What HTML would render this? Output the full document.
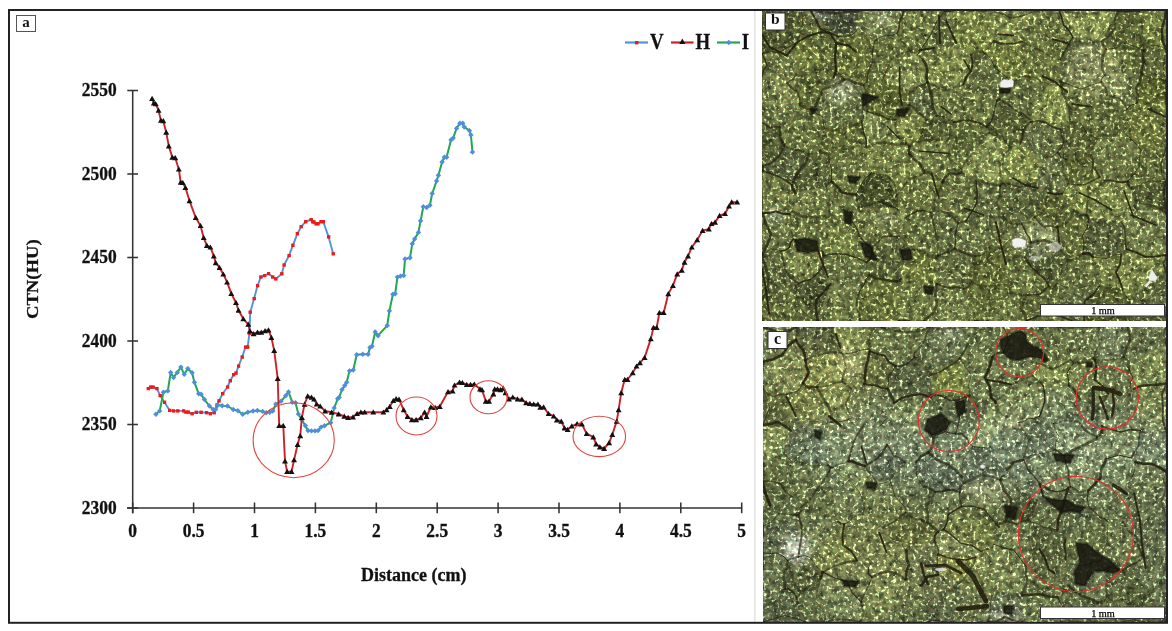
<!DOCTYPE html><html><head><meta charset="utf-8"><style>
html,body{margin:0;padding:0;background:#fff;width:1172px;height:631px;overflow:hidden}
.s{font-family:"Liberation Serif",serif;font-weight:bold}
</style></head><body>
<svg width="1172" height="631" viewBox="0 0 1172 631" style="position:absolute;left:0;top:0;will-change:transform">
<defs>
<marker id="tri" viewBox="0 0 6 6" markerWidth="6" markerHeight="6" refX="3" refY="3.2" markerUnits="userSpaceOnUse"><path d="M3,0.4 L6,5.6 L0,5.6Z" fill="#111"/></marker>
<marker id="sq" viewBox="0 0 4 4" markerWidth="4" markerHeight="4" refX="2" refY="2" markerUnits="userSpaceOnUse"><rect x="0.3" y="0.3" width="3.4" height="3.4" fill="#f01818"/></marker>
<marker id="dia" viewBox="0 0 6 6" markerWidth="6" markerHeight="6" refX="3" refY="3" markerUnits="userSpaceOnUse"><path d="M3,0.3 L5.7,3 L3,5.7 L0.3,3Z" fill="#4f8ede"/></marker>
</defs>
<rect x="0" y="0" width="1172" height="631" fill="#fff"/>

<line x1="754.8" y1="11" x2="754.8" y2="622" stroke="#e4e4e4" stroke-width="1.6"/>
<g stroke="#333" stroke-width="1.55" fill="none">
<line x1="132.7" y1="90.5" x2="132.7" y2="513.2"/>
<line x1="127" y1="508.0" x2="742.2" y2="508.0"/>
<line x1="127.3" y1="90.5" x2="138" y2="90.5"/>
<line x1="127.3" y1="174.0" x2="138" y2="174.0"/>
<line x1="127.3" y1="257.5" x2="138" y2="257.5"/>
<line x1="127.3" y1="341.0" x2="138" y2="341.0"/>
<line x1="127.3" y1="424.5" x2="138" y2="424.5"/>
<line x1="127.3" y1="508.0" x2="138" y2="508.0"/>
<line x1="132.7" y1="502.5" x2="132.7" y2="513.2"/>
<line x1="193.6" y1="502.5" x2="193.6" y2="513.2"/>
<line x1="254.5" y1="502.5" x2="254.5" y2="513.2"/>
<line x1="315.4" y1="502.5" x2="315.4" y2="513.2"/>
<line x1="376.3" y1="502.5" x2="376.3" y2="513.2"/>
<line x1="437.2" y1="502.5" x2="437.2" y2="513.2"/>
<line x1="498.1" y1="502.5" x2="498.1" y2="513.2"/>
<line x1="559.0" y1="502.5" x2="559.0" y2="513.2"/>
<line x1="619.9" y1="502.5" x2="619.9" y2="513.2"/>
<line x1="680.8" y1="502.5" x2="680.8" y2="513.2"/>
<line x1="741.7" y1="502.5" x2="741.7" y2="513.2"/>
</g>
<g class="s" font-size="17.4" fill="#111" stroke="#111" stroke-width="0.3">
<text transform="translate(116.6,96.0) scale(1,1.13)" text-anchor="end">2550</text>
<text transform="translate(116.6,179.5) scale(1,1.13)" text-anchor="end">2500</text>
<text transform="translate(116.6,263.0) scale(1,1.13)" text-anchor="end">2450</text>
<text transform="translate(116.6,346.5) scale(1,1.13)" text-anchor="end">2400</text>
<text transform="translate(116.6,430.0) scale(1,1.13)" text-anchor="end">2350</text>
<text transform="translate(116.6,513.5) scale(1,1.13)" text-anchor="end">2300</text>
<text transform="translate(132.7,536.5) scale(1,1.1)" text-anchor="middle">0</text>
<text transform="translate(193.6,536.5) scale(1,1.1)" text-anchor="middle">0.5</text>
<text transform="translate(254.5,536.5) scale(1,1.1)" text-anchor="middle">1</text>
<text transform="translate(315.4,536.5) scale(1,1.1)" text-anchor="middle">1.5</text>
<text transform="translate(376.3,536.5) scale(1,1.1)" text-anchor="middle">2</text>
<text transform="translate(437.2,536.5) scale(1,1.1)" text-anchor="middle">2.5</text>
<text transform="translate(498.1,536.5) scale(1,1.1)" text-anchor="middle">3</text>
<text transform="translate(559.0,536.5) scale(1,1.1)" text-anchor="middle">3.5</text>
<text transform="translate(619.9,536.5) scale(1,1.1)" text-anchor="middle">4</text>
<text transform="translate(680.8,536.5) scale(1,1.1)" text-anchor="middle">4.5</text>
<text transform="translate(741.7,536.5) scale(1,1.1)" text-anchor="middle">5</text>
</g>
<text class="s" font-size="18" x="413.8" y="581" text-anchor="middle" fill="#111" stroke="#111" stroke-width="0.3">Distance (cm)</text>
<text class="s" font-size="16.5" transform="translate(38,279.2) rotate(-90) scale(1.13,1)" text-anchor="middle" fill="#111" stroke="#111" stroke-width="0.3">CTN(HU)</text>
<polyline points="148.3,388.5 150.7,387.1 153.1,387.1 156.9,388.5 160.2,395.6 164.5,402.3 169.7,410.4 173.5,410.9 177.8,410.9 183.5,410.9 185.9,412.1 188.3,412.1 192.1,413.7 196.3,412.3 201.1,412.3 206.6,412.7 210.4,413.7 214.2,412.7 217.0,405.0 219.0,400.9 222.7,393.7 227.5,387.0 230.3,380.7 233.6,374.7 236.0,373.1 238.5,366.1 242.2,357.0 245.5,347.1 247.7,347.1 249.4,333.2 250.2,312.2 254.2,298.6 257.5,285.6 260.9,277.0 264.7,275.5 268.5,273.6 272.7,277.0 275.8,278.9 281.8,273.8 284.1,265.0 289.1,255.5 292.9,245.3 297.4,233.7 301.2,226.6 305.7,221.7 311.2,219.5 312.6,221.7 314.0,222.1 316.0,223.8 318.0,223.8 321.0,221.7 323.3,221.7 328.6,236.9 333.2,253.8" fill="none" stroke="#4f93d8" stroke-width="1.9" stroke-linejoin="round" marker-start="url(#sq)" marker-mid="url(#sq)" marker-end="url(#sq)"/>
<polyline points="155.9,414.2 159.7,410.9 163.5,392.3 167.8,390.9 170.7,372.4 173.5,377.6 177.3,372.4 180.9,367.1 184.2,374.3 187.8,368.6 192.1,372.8 194.4,382.3 198.7,393.7 201.1,394.2 204.4,399.4 209.4,406.0 213.2,409.5 215.7,409.3 218.0,405.1 222.2,405.7 227.5,406.0 233.2,409.5 237.9,410.8 242.7,414.2 247.8,412.3 253.1,411.0 257.4,410.5 262.7,411.4 266.2,412.8 269.7,412.3 272.8,411.0 275.8,404.1 281.0,401.3 285.7,395.7 288.5,391.9 292.3,402.3 295.5,402.7 298.4,414.0 301.9,420.1 305.4,425.7 308.0,430.6 311.5,430.9 315.0,430.9 318.1,430.6 321.1,427.1 324.6,425.7 330.7,422.7 334.2,407.9 337.7,398.8 339.1,397.4 342.0,389.6 344.7,385.6 346.7,382.3 349.5,370.9 353.3,370.0 356.7,354.7 362.8,354.3 368.1,354.3 370.0,347.5 372.0,346.2 375.2,331.9 378.0,335.7 387.2,325.6 389.4,310.9 392.9,294.2 395.2,293.8 397.4,277.1 400.5,276.1 403.7,275.5 405.0,259.0 410.0,257.7 412.3,243.8 414.6,239.0 418.4,232.4 420.6,220.8 423.3,206.8 426.6,207.5 429.9,205.3 432.2,193.5 436.6,180.9 438.4,175.3 442.1,162.0 444.3,157.2 446.6,157.2 451.0,139.9 453.2,138.1 456.5,128.4 459.9,123.3 462.7,123.3 464.3,127.0 469.4,130.6 470.9,135.0 472.5,152.1" fill="none" stroke="#1fa94c" stroke-width="2" stroke-linejoin="round" marker-start="url(#dia)" marker-mid="url(#dia)" marker-end="url(#dia)"/>
<polyline points="152.1,98.6 153.8,103.1 155.7,103.8 158.5,110.4 160.9,120.4 163.3,120.9 166.2,132.3 168.8,146.1 172.3,157.3 175.2,157.8 178.8,169.2 180.7,182.3 182.8,182.7 185.4,187.5 189.5,200.8 195.7,217.5 200.5,225.7 203.7,237.7 206.9,245.6 210.4,247.2 213.8,256.1 215.7,262.8 219.5,267.5 223.3,274.2 227.1,282.2 231.3,293.6 236.0,302.7 238.5,310.3 243.3,318.8 248.3,324.3 249.9,331.0 253.5,333.8 257.5,332.3 261.3,332.3 265.1,330.9 268.5,330.0 271.4,337.6 274.2,350.5 277.7,378.5 279.2,425.7 283.3,425.7 285.0,461.1 287.1,471.6 291.5,471.6 294.1,459.9 297.6,444.5 300.2,435.8 301.9,417.5 304.5,404.4 307.7,396.0 311.5,397.4 314.1,399.2 316.7,404.1 320.2,406.2 325.1,411.0 331.6,412.3 338.6,414.0 344.3,416.3 348.1,417.5 353.0,417.0 357.1,413.7 360.9,412.2 364.7,412.2 373.3,412.2 383.4,412.2 386.6,409.9 389.8,406.5 393.3,400.7 396.1,398.8 399.0,399.4 403.7,409.9 407.5,416.5 411.9,419.8 416.1,419.8 420.8,417.9 424.6,412.2 426.5,416.5 430.9,407.0 435.1,407.6 439.8,406.5 448.0,391.8 452.6,391.2 454.5,385.2 459.5,382.3 462.4,382.7 466.7,384.6 470.5,384.6 474.3,384.2 480.0,389.0 482.0,389.9 485.8,401.3 489.0,401.3 493.4,394.1 494.7,389.0 497.5,389.0 500.4,389.9 503.3,388.4 505.5,392.8 509.0,399.1 512.8,397.2 517.5,399.1 521.9,399.4 526.1,402.9 529.9,403.6 533.7,404.2 537.9,404.2 540.3,407.4 543.6,407.1 548.5,413.7 553.7,416.2 556.9,420.0 561.3,421.3 564.5,428.0 567.6,429.5 571.8,426.1 577.1,423.8 581.9,424.2 586.6,433.7 593.3,437.1 596.1,444.1 599.9,447.0 604.1,448.5 609.1,442.8 612.3,434.6 616.7,421.3 618.6,409.9 621.2,392.8 624.7,379.5 627.5,379.5 632.7,372.8 636.5,366.2 639.9,362.9 644.6,357.6 650.8,338.9 653.5,327.5 656.7,327.5 659.4,312.7 663.7,312.7 668.3,293.8 672.9,285.7 677.2,274.1 681.8,270.4 684.5,262.3 688.0,256.1 691.8,247.2 697.2,239.9 702.6,230.5 708.8,229.1 711.5,223.7 715.0,222.4 719.6,215.6 725.0,213.7 729.0,206.2 731.7,202.1 737.1,202.1" fill="none" stroke="#cc2028" stroke-width="1.9" stroke-linejoin="round" marker-start="url(#tri)" marker-mid="url(#tri)" marker-end="url(#tri)"/>
<g fill="none" stroke="#e0453c" stroke-width="1.1">
<ellipse cx="293.7" cy="440.2" rx="40.6" ry="37.5"/>
<ellipse cx="416.5" cy="416" rx="20.5" ry="19"/>
<ellipse cx="488.5" cy="397.2" rx="18.5" ry="16.5"/>
<ellipse cx="599.3" cy="436.4" rx="26.3" ry="20.2"/>
</g>
<g stroke-width="2.2">
<line x1="625" y1="42.5" x2="648" y2="42.5" stroke="#4f93d8"/><rect x="635" y="41" width="3.4" height="3.4" fill="#f01818"/>
<line x1="671" y1="42.5" x2="693.5" y2="42.5" stroke="#cc2028"/><path d="M682.3,38.6 L685.3,44 L679.3,44Z" fill="#111"/>
<line x1="717" y1="42.5" x2="740" y2="42.5" stroke="#1fa94c"/><path d="M728.8,39.8 L731.5,42.5 L728.8,45.2 L726.1,42.5Z" fill="#4f8ede"/>
</g>
<g class="s" font-size="23" fill="#111" stroke="#111" stroke-width="0.3">
<text transform="translate(650,49.4) scale(0.82,1)">V</text>
<text transform="translate(695.5,49.4) scale(0.82,1)">H</text>
<text transform="translate(741.8,49.4) scale(0.82,1)">I</text>
</g>
<rect x="16.5" y="15.5" width="19" height="16" fill="#fff" stroke="#555" stroke-width="1"/>
<text class="s" font-size="15" x="25.9" y="26.6" text-anchor="middle" fill="#111">a</text>
<clipPath id="clipb"><rect x="762" y="11" width="404" height="310"/></clipPath>
<filter id="nzb" x="762" y="11" width="404" height="310" filterUnits="userSpaceOnUse" color-interpolation-filters="sRGB">
<feTurbulence type="fractalNoise" baseFrequency="0.38" numOctaves="1" seed="23" result="t1"/>
<feColorMatrix in="t1" type="matrix" values="0.35 0.4 0 0 0.125  0.35 0.060 0 0 0.295  0.35 0.040 0 0 0.305  0 0 0 0 1" result="c1"/>
<feTurbulence type="fractalNoise" baseFrequency="0.15" numOctaves="2" seed="3" result="t2"/>
<feColorMatrix in="t2" type="matrix" values="1 0 0 0 0  1 0 0 0 0  1 0 0 0 0  0 0 0 0 1" result="c2"/>
<feComposite in="c1" in2="c2" operator="arithmetic" k1="0" k2="1" k3="0.6" k4="-0.300" result="n"/>
<feComposite in="SourceGraphic" in2="n" operator="arithmetic" k1="2" k2="0" k3="0" k4="0" result="b"/>
<feTurbulence type="fractalNoise" baseFrequency="0.3" numOctaves="2" seed="43" result="t3"/>
<feColorMatrix in="t3" type="matrix" values="1 0 0 0 0  1 0 0 0 0  1 0 0 0 0  0 0 0 0 1" result="c3"/>
<feComponentTransfer in="c3" result="m"><feFuncR type="linear" slope="4.5" intercept="-2.475"/><feFuncG type="linear" slope="4.5" intercept="-2.475"/><feFuncB type="linear" slope="4.5" intercept="-2.475"/></feComponentTransfer>
<feColorMatrix in="m" type="matrix" values="0.5 0 0 0 0  0.56 0 0 0 0  0.4 0 0 0 0  0 0 0 0 1" result="spk"/>
<feComposite in="b" in2="spk" operator="arithmetic" k1="0" k2="1" k3="1" k4="0"/>
<feGaussianBlur stdDeviation="0.45"/>
</filter>
<g clip-path="url(#clipb)"><g filter="url(#nzb)">
<rect x="762" y="11" width="404" height="310" fill="#646c3e"/>
<path d="M794.5,44.4 L762.0,53.6 L762.0,11.0 L801.5,11.0 L799.6,35.9Z" fill="#4b512e" stroke="#4b512e" stroke-width="0.6"/>
<path d="M797.6,72.9 L787.2,83.2 L762.0,76.8 L762.0,53.6 L794.5,44.4Z" fill="#646c3f" stroke="#646c3f" stroke-width="0.6"/>
<path d="M762.0,76.8 L787.2,83.2 L799.7,105.3 L779.7,127.1 L762.0,122.6Z" fill="#626a40" stroke="#626a40" stroke-width="0.6"/>
<path d="M784.4,145.3 L762.0,165.9 L762.0,122.6 L779.7,127.1Z" fill="#515833" stroke="#515833" stroke-width="0.6"/>
<path d="M762.0,170.7 L792.1,185.3 L808.7,154.2 L784.4,145.3 L762.0,165.9Z" fill="#535a3a" stroke="#535a3a" stroke-width="0.6"/>
<path d="M792.5,211.2 L795.4,193.2 L792.1,185.3 L762.0,170.7 L762.0,213.3 L789.9,214.3Z" fill="#6a7242" stroke="#6a7242" stroke-width="0.6"/>
<path d="M789.9,214.3 L762.0,213.3 L762.0,254.6 L781.1,251.0 L793.4,238.9Z" fill="#666e43" stroke="#666e43" stroke-width="0.6"/>
<path d="M798.2,283.4 L781.1,251.0 L762.0,254.6 L762.0,299.6 L795.0,288.5Z" fill="#59603b" stroke="#59603b" stroke-width="0.6"/>
<path d="M795.0,288.5 L817.2,321.0 L762.0,321.0 L762.0,299.6Z" fill="#5a6137" stroke="#5a6137" stroke-width="0.6"/>
<path d="M824.4,63.2 L831.6,63.2 L838.5,36.8 L810.8,11.0 L801.5,11.0 L799.6,35.9Z" fill="#5c6337" stroke="#5c6337" stroke-width="0.6"/>
<path d="M824.4,63.2 L799.6,35.9 L794.5,44.4 L797.6,72.9Z" fill="#6e763c" stroke="#6e763c" stroke-width="0.6"/>
<path d="M824.4,63.2 L831.6,63.2 L844.4,79.5 L813.5,110.0 L799.7,105.3 L787.2,83.2 L797.6,72.9Z" fill="#565d32" stroke="#565d32" stroke-width="0.6"/>
<path d="M824.6,128.6 L813.5,110.0 L799.7,105.3 L779.7,127.1 L784.4,145.3 L808.7,154.2 L820.0,151.2Z" fill="#636b3d" stroke="#636b3d" stroke-width="0.6"/>
<path d="M831.6,181.5 L828.7,159.6 L820.0,151.2 L808.7,154.2 L792.1,185.3 L795.4,193.2 L826.0,187.0Z" fill="#515834" stroke="#515834" stroke-width="0.6"/>
<path d="M824.8,215.7 L792.5,211.2 L795.4,193.2 L826.0,187.0Z" fill="#6d7544" stroke="#6d7544" stroke-width="0.6"/>
<path d="M835.6,224.9 L821.9,250.8 L793.4,238.9 L789.9,214.3 L792.5,211.2 L824.8,215.7Z" fill="#646c3f" stroke="#646c3f" stroke-width="0.6"/>
<path d="M798.2,283.4 L781.1,251.0 L793.4,238.9 L821.9,250.8 L823.3,255.6 L819.0,271.9Z" fill="#727b47" stroke="#727b47" stroke-width="0.6"/>
<path d="M798.2,283.4 L819.0,271.9 L830.5,284.1 L817.9,321.0 L817.2,321.0 L795.0,288.5Z" fill="#484d2f" stroke="#484d2f" stroke-width="0.6"/>
<path d="M856.7,30.7 L838.5,36.8 L810.8,11.0 L859.3,11.0Z" fill="#434936" stroke="#434936" stroke-width="0.6"/>
<path d="M838.5,36.8 L856.7,30.7 L875.1,40.9 L867.0,82.2 L863.5,85.0 L844.4,79.5 L831.6,63.2Z" fill="#626937" stroke="#626937" stroke-width="0.6"/>
<path d="M861.7,121.0 L824.6,128.6 L813.5,110.0 L844.4,79.5 L863.5,85.0 L867.7,111.6Z" fill="#616941" stroke="#616941" stroke-width="0.6"/>
<path d="M861.7,121.0 L824.6,128.6 L820.0,151.2 L828.7,159.6 L863.1,155.6 L866.1,147.5Z" fill="#5c6335" stroke="#5c6335" stroke-width="0.6"/>
<path d="M855.8,194.6 L831.6,181.5 L828.7,159.6 L863.1,155.6 L871.5,172.6Z" fill="#666e3f" stroke="#666e3f" stroke-width="0.6"/>
<path d="M855.8,194.6 L831.6,181.5 L826.0,187.0 L824.8,215.7 L835.6,224.9 L851.7,220.6 L858.4,207.4Z" fill="#636b3e" stroke="#636b3e" stroke-width="0.6"/>
<path d="M866.7,262.4 L823.3,255.6 L821.9,250.8 L835.6,224.9 L851.7,220.6 L871.5,247.9Z" fill="#6f7843" stroke="#6f7843" stroke-width="0.6"/>
<path d="M866.7,262.4 L823.3,255.6 L819.0,271.9 L830.5,284.1 L858.9,292.6 L869.5,275.2Z" fill="#636c42" stroke="#636c42" stroke-width="0.6"/>
<path d="M830.5,284.1 L858.9,292.6 L860.3,321.0 L817.9,321.0Z" fill="#687143" stroke="#687143" stroke-width="0.6"/>
<path d="M859.3,11.0 L903.8,11.0 L897.1,33.5 L875.1,40.9 L856.7,30.7Z" fill="#6d7649" stroke="#6d7649" stroke-width="0.6"/>
<path d="M867.0,82.2 L882.2,80.4 L910.1,50.9 L897.1,33.5 L875.1,40.9Z" fill="#626a3d" stroke="#626a3d" stroke-width="0.6"/>
<path d="M867.7,111.6 L863.5,85.0 L867.0,82.2 L882.2,80.4 L913.2,91.6 L909.4,105.4 L895.4,119.8Z" fill="#596031" stroke="#596031" stroke-width="0.6"/>
<path d="M861.7,121.0 L866.1,147.5 L905.7,143.5 L895.4,119.8 L867.7,111.6Z" fill="#747e4a" stroke="#747e4a" stroke-width="0.6"/>
<path d="M885.8,175.2 L909.3,154.2 L909.2,146.6 L905.7,143.5 L866.1,147.5 L863.1,155.6 L871.5,172.6Z" fill="#6e7743" stroke="#6e7743" stroke-width="0.6"/>
<path d="M896.7,195.3 L885.8,175.2 L871.5,172.6 L855.8,194.6 L858.4,207.4 L897.3,208.8Z" fill="#454b2a" stroke="#454b2a" stroke-width="0.6"/>
<path d="M871.5,247.9 L851.7,220.6 L858.4,207.4 L897.3,208.8 L905.1,218.0 L899.0,236.3Z" fill="#646b3d" stroke="#646b3d" stroke-width="0.6"/>
<path d="M907.4,248.2 L899.0,236.3 L871.5,247.9 L866.7,262.4 L869.5,275.2 L896.8,281.3 L901.0,279.2Z" fill="#565d37" stroke="#565d37" stroke-width="0.6"/>
<path d="M869.5,275.2 L858.9,292.6 L860.3,321.0 L899.4,321.0 L896.8,281.3Z" fill="#656d3a" stroke="#656d3a" stroke-width="0.6"/>
<path d="M897.1,33.5 L903.8,11.0 L944.5,11.0 L917.5,54.8 L910.1,50.9Z" fill="#687040" stroke="#687040" stroke-width="0.6"/>
<path d="M927.5,82.5 L927.5,82.5 L913.2,91.6 L882.2,80.4 L910.1,50.9 L917.5,54.8 L923.0,59.9Z" fill="#757e4a" stroke="#757e4a" stroke-width="0.6"/>
<path d="M926.3,119.8 L936.6,115.6 L927.5,82.5 L913.2,91.6 L909.4,105.4Z" fill="#5a623f" stroke="#5a623f" stroke-width="0.6"/>
<path d="M905.7,143.5 L909.2,146.6 L918.5,141.6 L926.3,119.8 L909.4,105.4 L895.4,119.8Z" fill="#7a8348" stroke="#7a8348" stroke-width="0.6"/>
<path d="M896.7,195.3 L924.5,173.2 L909.3,154.2 L885.8,175.2Z" fill="#717a43" stroke="#717a43" stroke-width="0.6"/>
<path d="M930.8,212.9 L905.1,218.0 L897.3,208.8 L896.7,195.3 L924.5,173.2 L942.4,182.6 L933.8,210.8Z" fill="#666e3e" stroke="#666e3e" stroke-width="0.6"/>
<path d="M936.4,257.9 L937.8,256.0 L930.8,212.9 L905.1,218.0 L899.0,236.3 L907.4,248.2Z" fill="#60683d" stroke="#60683d" stroke-width="0.6"/>
<path d="M937.0,283.9 L936.4,257.9 L907.4,248.2 L901.0,279.2 L936.4,284.4Z" fill="#69713b" stroke="#69713b" stroke-width="0.6"/>
<path d="M936.4,284.4 L924.3,321.0 L899.4,321.0 L896.8,281.3 L901.0,279.2Z" fill="#6a7342" stroke="#6a7342" stroke-width="0.6"/>
<path d="M923.0,59.9 L917.5,54.8 L944.5,11.0 L949.9,11.0 L957.6,43.1Z" fill="#5b633b" stroke="#5b633b" stroke-width="0.6"/>
<path d="M927.5,82.5 L960.4,85.9 L963.6,84.1 L970.9,54.6 L957.6,43.1 L923.0,59.9Z" fill="#798249" stroke="#798249" stroke-width="0.6"/>
<path d="M927.5,82.5 L927.5,82.5 L936.6,115.6 L953.8,121.8 L960.4,85.9Z" fill="#646c3f" stroke="#646c3f" stroke-width="0.6"/>
<path d="M918.5,141.6 L947.6,141.4 L954.0,122.2 L953.8,121.8 L936.6,115.6 L926.3,119.8Z" fill="#565d36" stroke="#565d36" stroke-width="0.6"/>
<path d="M924.5,173.2 L942.4,182.6 L961.6,172.4 L961.6,169.9 L947.6,141.4 L918.5,141.6 L909.2,146.6 L909.3,154.2Z" fill="#6d7645" stroke="#6d7645" stroke-width="0.6"/>
<path d="M958.1,222.9 L965.9,221.4 L976.1,180.9 L961.6,172.4 L942.4,182.6 L933.8,210.8Z" fill="#61683d" stroke="#61683d" stroke-width="0.6"/>
<path d="M954.5,248.9 L958.1,222.9 L933.8,210.8 L930.8,212.9 L937.8,256.0Z" fill="#616942" stroke="#616942" stroke-width="0.6"/>
<path d="M937.0,283.9 L963.6,288.7 L971.2,281.6 L975.1,256.3 L954.5,248.9 L937.8,256.0 L936.4,257.9Z" fill="#5f663e" stroke="#5f663e" stroke-width="0.6"/>
<path d="M937.0,283.9 L963.6,288.7 L975.0,321.0 L924.3,321.0 L936.4,284.4Z" fill="#6c7546" stroke="#6c7546" stroke-width="0.6"/>
<path d="M970.9,54.6 L982.8,51.6 L993.6,41.0 L989.0,11.0 L949.9,11.0 L957.6,43.1Z" fill="#6f783f" stroke="#6f783f" stroke-width="0.6"/>
<path d="M999.7,99.5 L1011.2,81.4 L982.8,51.6 L970.9,54.6 L963.6,84.1 L997.0,100.7Z" fill="#5e663d" stroke="#5e663d" stroke-width="0.6"/>
<path d="M986.8,126.8 L954.0,122.2 L953.8,121.8 L960.4,85.9 L963.6,84.1 L997.0,100.7Z" fill="#666e3f" stroke="#666e3f" stroke-width="0.6"/>
<path d="M986.8,126.8 L954.0,122.2 L947.6,141.4 L961.6,169.9 L988.7,132.8Z" fill="#596136" stroke="#596136" stroke-width="0.6"/>
<path d="M1011.3,147.9 L1003.0,183.2 L999.9,185.8 L976.1,180.9 L961.6,172.4 L961.6,169.9 L988.7,132.8Z" fill="#7b854e" stroke="#7b854e" stroke-width="0.6"/>
<path d="M992.8,232.0 L1005.7,219.1 L999.9,185.8 L976.1,180.9 L965.9,221.4Z" fill="#5e663f" stroke="#5e663f" stroke-width="0.6"/>
<path d="M954.5,248.9 L975.1,256.3 L990.6,245.3 L992.8,232.0 L965.9,221.4 L958.1,222.9Z" fill="#646c43" stroke="#646c43" stroke-width="0.6"/>
<path d="M990.6,245.3 L1005.8,262.1 L1004.4,284.0 L971.2,281.6 L975.1,256.3Z" fill="#5b6133" stroke="#5b6133" stroke-width="0.6"/>
<path d="M1010.0,291.8 L988.1,321.0 L975.0,321.0 L963.6,288.7 L971.2,281.6 L1004.4,284.0Z" fill="#5c6435" stroke="#5c6435" stroke-width="0.6"/>
<path d="M989.0,11.0 L1034.5,11.0 L1022.1,41.5 L993.6,41.0Z" fill="#778149" stroke="#778149" stroke-width="0.6"/>
<path d="M1019.3,77.1 L1011.2,81.4 L982.8,51.6 L993.6,41.0 L1022.1,41.5 L1022.1,41.6Z" fill="#70793e" stroke="#70793e" stroke-width="0.6"/>
<path d="M1030.2,119.9 L999.7,99.5 L1011.2,81.4 L1019.3,77.1 L1048.5,83.8Z" fill="#60683e" stroke="#60683e" stroke-width="0.6"/>
<path d="M1031.0,121.8 L1019.9,144.1 L1011.3,147.9 L988.7,132.8 L986.8,126.8 L997.0,100.7 L999.7,99.5 L1030.2,119.9Z" fill="#545b34" stroke="#545b34" stroke-width="0.6"/>
<path d="M1043.5,157.7 L1035.9,182.5 L1003.0,183.2 L1011.3,147.9 L1019.9,144.1Z" fill="#798247" stroke="#798247" stroke-width="0.6"/>
<path d="M1021.3,223.6 L1034.7,216.9 L1048.0,193.0 L1035.9,182.5 L1003.0,183.2 L999.9,185.8 L1005.7,219.1Z" fill="#565d39" stroke="#565d39" stroke-width="0.6"/>
<path d="M990.6,245.3 L1005.8,262.1 L1025.0,257.3 L1031.0,242.5 L1021.3,223.6 L1005.7,219.1 L992.8,232.0Z" fill="#5f663a" stroke="#5f663a" stroke-width="0.6"/>
<path d="M1025.0,257.3 L1048.9,286.0 L1027.0,295.3 L1010.0,291.8 L1004.4,284.0 L1005.8,262.1Z" fill="#626a3c" stroke="#626a3c" stroke-width="0.6"/>
<path d="M988.1,321.0 L1026.0,321.0 L1027.0,295.3 L1010.0,291.8Z" fill="#676f41" stroke="#676f41" stroke-width="0.6"/>
<path d="M1022.1,41.6 L1022.1,41.5 L1034.5,11.0 L1059.5,11.0 L1072.9,37.3 L1060.4,60.0Z" fill="#646c3d" stroke="#646c3d" stroke-width="0.6"/>
<path d="M1048.5,83.8 L1019.3,77.1 L1022.1,41.6 L1060.4,60.0 L1059.8,80.9Z" fill="#656c3c" stroke="#656c3c" stroke-width="0.6"/>
<path d="M1031.0,121.8 L1060.5,129.2 L1070.3,121.4 L1060.9,81.7 L1059.8,80.9 L1048.5,83.8 L1030.2,119.9Z" fill="#7c864b" stroke="#7c864b" stroke-width="0.6"/>
<path d="M1031.0,121.8 L1019.9,144.1 L1043.5,157.7 L1057.5,152.4 L1060.5,129.2Z" fill="#606842" stroke="#606842" stroke-width="0.6"/>
<path d="M1057.5,152.4 L1066.0,159.6 L1068.2,183.8 L1062.6,193.5 L1048.0,193.0 L1035.9,182.5 L1043.5,157.7Z" fill="#636b45" stroke="#636b45" stroke-width="0.6"/>
<path d="M1062.6,193.5 L1073.9,210.4 L1056.5,227.2 L1034.7,216.9 L1048.0,193.0Z" fill="#565c32" stroke="#565c32" stroke-width="0.6"/>
<path d="M1031.0,242.5 L1056.2,246.3 L1056.5,227.2 L1034.7,216.9 L1021.3,223.6Z" fill="#6c7544" stroke="#6c7544" stroke-width="0.6"/>
<path d="M1057.4,283.4 L1067.6,260.4 L1056.2,246.3 L1031.0,242.5 L1025.0,257.3 L1048.9,286.0 L1055.4,286.0Z" fill="#4e5532" stroke="#4e5532" stroke-width="0.6"/>
<path d="M1055.4,286.0 L1072.3,321.0 L1026.0,321.0 L1027.0,295.3 L1048.9,286.0Z" fill="#5e6538" stroke="#5e6538" stroke-width="0.6"/>
<path d="M1101.2,41.5 L1118.2,11.0 L1059.5,11.0 L1072.9,37.3Z" fill="#808a4e" stroke="#808a4e" stroke-width="0.6"/>
<path d="M1059.8,80.9 L1060.4,60.0 L1072.9,37.3 L1101.2,41.5 L1105.9,49.4 L1105.1,74.8 L1101.4,82.0 L1060.9,81.7Z" fill="#575e3b" stroke="#575e3b" stroke-width="0.6"/>
<path d="M1070.3,121.4 L1081.0,123.4 L1106.7,94.9 L1101.4,82.0 L1060.9,81.7Z" fill="#636b3e" stroke="#636b3e" stroke-width="0.6"/>
<path d="M1060.5,129.2 L1057.5,152.4 L1066.0,159.6 L1091.0,155.0 L1097.8,139.4 L1081.0,123.4 L1070.3,121.4Z" fill="#575d35" stroke="#575d35" stroke-width="0.6"/>
<path d="M1091.0,155.0 L1099.7,176.9 L1068.2,183.8 L1066.0,159.6Z" fill="#5a6033" stroke="#5a6033" stroke-width="0.6"/>
<path d="M1062.6,193.5 L1068.2,183.8 L1099.7,176.9 L1104.8,180.4 L1086.4,215.3 L1073.9,210.4Z" fill="#747d44" stroke="#747d44" stroke-width="0.6"/>
<path d="M1088.6,218.0 L1086.4,215.3 L1073.9,210.4 L1056.5,227.2 L1056.2,246.3 L1067.6,260.4 L1083.0,253.8Z" fill="#606739" stroke="#606739" stroke-width="0.6"/>
<path d="M1099.9,285.7 L1099.0,286.2 L1057.4,283.4 L1067.6,260.4 L1083.0,253.8 L1093.1,257.1Z" fill="#61693e" stroke="#61693e" stroke-width="0.6"/>
<path d="M1084.4,321.0 L1099.0,286.2 L1057.4,283.4 L1055.4,286.0 L1072.3,321.0Z" fill="#5c643e" stroke="#5c643e" stroke-width="0.6"/>
<path d="M1105.9,49.4 L1143.9,50.8 L1147.5,47.1 L1139.5,11.0 L1118.2,11.0 L1101.2,41.5Z" fill="#555c32" stroke="#555c32" stroke-width="0.6"/>
<path d="M1105.1,74.8 L1141.1,72.9 L1143.9,50.8 L1105.9,49.4Z" fill="#626a3c" stroke="#626a3c" stroke-width="0.6"/>
<path d="M1105.1,74.8 L1141.1,72.9 L1141.8,74.1 L1137.0,102.7 L1126.8,109.8 L1106.7,94.9 L1101.4,82.0Z" fill="#6b7449" stroke="#6b7449" stroke-width="0.6"/>
<path d="M1097.8,139.4 L1126.5,135.0 L1126.8,109.8 L1106.7,94.9 L1081.0,123.4Z" fill="#5b6238" stroke="#5b6238" stroke-width="0.6"/>
<path d="M1097.8,139.4 L1126.5,135.0 L1141.0,150.2 L1127.9,181.4 L1104.8,180.4 L1099.7,176.9 L1091.0,155.0Z" fill="#687042" stroke="#687042" stroke-width="0.6"/>
<path d="M1088.6,218.0 L1086.4,215.3 L1104.8,180.4 L1127.9,181.4 L1131.1,188.4 L1135.1,202.7 L1121.4,222.0Z" fill="#717a45" stroke="#717a45" stroke-width="0.6"/>
<path d="M1093.1,257.1 L1083.0,253.8 L1088.6,218.0 L1121.4,222.0 L1126.4,249.1 L1121.2,254.3Z" fill="#535937" stroke="#535937" stroke-width="0.6"/>
<path d="M1099.9,285.7 L1093.1,257.1 L1121.2,254.3 L1122.9,289.6Z" fill="#6f7843" stroke="#6f7843" stroke-width="0.6"/>
<path d="M1099.9,285.7 L1099.0,286.2 L1084.4,321.0 L1129.7,321.0 L1129.8,299.5 L1122.9,289.6Z" fill="#51572d" stroke="#51572d" stroke-width="0.6"/>
<path d="M1166.0,48.9 L1166.0,11.0 L1139.5,11.0 L1147.5,47.1Z" fill="#6f7840" stroke="#6f7840" stroke-width="0.6"/>
<path d="M1143.9,50.8 L1141.1,72.9 L1141.8,74.1 L1166.0,80.7 L1166.0,48.9 L1147.5,47.1Z" fill="#5f663c" stroke="#5f663c" stroke-width="0.6"/>
<path d="M1137.0,102.7 L1166.0,103.7 L1166.0,80.7 L1141.8,74.1Z" fill="#5e6531" stroke="#5e6531" stroke-width="0.6"/>
<path d="M1137.0,102.7 L1166.0,103.7 L1166.0,147.6 L1141.0,150.2 L1126.5,135.0 L1126.8,109.8Z" fill="#676e3a" stroke="#676e3a" stroke-width="0.6"/>
<path d="M1127.9,181.4 L1131.1,188.4 L1166.0,182.0 L1166.0,147.6 L1141.0,150.2Z" fill="#5d6439" stroke="#5d6439" stroke-width="0.6"/>
<path d="M1131.1,188.4 L1135.1,202.7 L1166.0,213.4 L1166.0,182.0Z" fill="#4f5532" stroke="#4f5532" stroke-width="0.6"/>
<path d="M1126.4,249.1 L1166.0,254.9 L1166.0,213.4 L1135.1,202.7 L1121.4,222.0Z" fill="#6c7548" stroke="#6c7548" stroke-width="0.6"/>
<path d="M1122.9,289.6 L1129.8,299.5 L1166.0,271.9 L1166.0,254.9 L1126.4,249.1 L1121.2,254.3Z" fill="#727b45" stroke="#727b45" stroke-width="0.6"/>
<path d="M1129.8,299.5 L1129.7,321.0 L1166.0,321.0 L1166.0,271.9Z" fill="#565d37" stroke="#565d37" stroke-width="0.6"/>
<filter id="blb" x="-50%" y="-50%" width="200%" height="200%"><feGaussianBlur stdDeviation="5"/></filter>
<filter id="bLb" x="-50%" y="-50%" width="200%" height="200%"><feGaussianBlur stdDeviation="16"/></filter>
<g filter="url(#blb)">
<ellipse cx="840" cy="91" rx="13" ry="11" fill="#d8dcc0" fill-opacity="0.5"/>
<ellipse cx="818" cy="15" rx="9" ry="4" fill="#f0f0e8" fill-opacity="0.55"/>
<ellipse cx="883" cy="18" rx="9" ry="5" fill="#e8ecd8" fill-opacity="0.45"/>
<ellipse cx="786" cy="90" rx="13" ry="20" fill="#b8b870" fill-opacity="0.3"/>
<ellipse cx="1095" cy="70" rx="28" ry="27" fill="#c8c890" fill-opacity="0.35"/>
<ellipse cx="774" cy="215" rx="7" ry="7" fill="#d0dad0" fill-opacity="0.5"/>
<ellipse cx="886" cy="219" rx="14" ry="7" fill="#d0d4b0" fill-opacity="0.3"/>
<ellipse cx="1036" cy="240" rx="24" ry="18" fill="#c8ccb0" fill-opacity="0.3"/>
<ellipse cx="926" cy="134" rx="13" ry="10" fill="#3c4420" fill-opacity="0.35"/>
<ellipse cx="1145" cy="70" rx="22" ry="24" fill="#3c4420" fill-opacity="0.25"/>
</g>
<g filter="url(#bLb)">
</g>
</g>
<filter id="cbb" x="-10%" y="-10%" width="120%" height="120%"><feGaussianBlur stdDeviation="0.7"/></filter>
<g fill="none" stroke="#22200f" stroke-linecap="round" stroke-linejoin="round" filter="url(#cbb)">
<path d="M1059.5,11.0 L1074.1,13.0 L1088.9,14.4 L1103.2,9.9 L1118.2,11.0" stroke-width="2.6" stroke-opacity="0.44"/>
<path d="M1166.0,254.9 L1165.2,259.4 L1163.2,263.4 L1164.7,267.6 L1166.0,271.9" stroke-width="2.0" stroke-opacity="0.75"/>
<path d="M1166.0,254.9 L1168.6,244.5 L1171.6,234.2 L1169.4,223.6 L1166.0,213.4" stroke-width="1.0" stroke-opacity="0.71"/>
<path d="M944.5,11.0 L945.9,10.9 L947.2,10.8 L948.5,10.8 L949.9,11.0" stroke-width="2.6" stroke-opacity="0.75"/>
<path d="M944.5,11.0 L936.8,21.4 L931.6,33.3 L924.5,44.1 L917.5,54.8" stroke-width="1.0" stroke-opacity="0.80"/>
<path d="M944.5,11.0 L934.7,6.6 L924.2,4.8 L914.1,8.1 L903.8,11.0" stroke-width="1.5" stroke-opacity="0.73"/>
<path d="M897.1,33.5 L899.1,27.9 L899.4,21.9 L901.8,16.5 L903.8,11.0" stroke-width="1.5" stroke-opacity="0.70"/>
<path d="M917.5,54.8 L915.6,53.8 L913.9,52.6 L911.9,52.0 L910.1,50.9" stroke-width="2.0" stroke-opacity="0.49"/>
<path d="M910.1,50.9 L907.5,46.0 L903.0,42.6 L899.7,38.2 L897.1,33.5" stroke-width="1.5" stroke-opacity="0.53"/>
<path d="M910.1,50.9 L899.4,53.9 L890.3,60.2 L886.8,70.5 L882.2,80.4" stroke-width="1.5" stroke-opacity="0.47"/>
<path d="M897.1,33.5 L891.4,35.5 L885.5,35.4 L879.8,37.3 L875.1,40.9" stroke-width="1.0" stroke-opacity="0.60"/>
<path d="M875.1,40.9 L872.3,51.2 L872.5,61.8 L868.3,71.6 L867.0,82.2" stroke-width="1.5" stroke-opacity="0.59"/>
<path d="M1166.0,213.4 L1165.3,205.5 L1164.2,197.7 L1164.1,189.7 L1166.0,182.0" stroke-width="2.0" stroke-opacity="0.73"/>
<path d="M1166.0,213.4 L1159.4,208.2 L1151.7,204.9 L1143.4,204.0 L1135.1,202.7" stroke-width="1.5" stroke-opacity="0.35"/>
<path d="M1131.1,188.4 L1139.7,185.3 L1147.8,181.3 L1156.9,181.1 L1166.0,182.0" stroke-width="1.5" stroke-opacity="0.47"/>
<path d="M1118.2,11.0 L1123.5,11.4 L1128.9,11.2 L1134.1,10.4 L1139.5,11.0" stroke-width="2.0" stroke-opacity="0.88"/>
<path d="M1022.1,41.5 L1015.1,43.4 L1007.8,43.7 L1000.5,43.7 L993.6,41.0" stroke-width="2.0" stroke-opacity="0.77"/>
<path d="M1034.5,11.0 L1023.4,15.5 L1011.7,18.3 L1000.8,13.3 L989.0,11.0" stroke-width="1.5" stroke-opacity="0.60"/>
<path d="M1059.5,11.0 L1053.3,9.6 L1047.0,9.7 L1040.7,9.6 L1034.5,11.0" stroke-width="1.0" stroke-opacity="0.47"/>
<path d="M949.9,11.0 L959.6,9.4 L969.4,10.8 L979.2,10.7 L989.0,11.0" stroke-width="1.5" stroke-opacity="0.69"/>
<path d="M762.0,321.0 L759.5,315.9 L758.6,310.3 L759.8,304.8 L762.0,299.6" stroke-width="2.6" stroke-opacity="0.33"/>
<path d="M762.0,254.6 L765.4,265.8 L768.6,277.1 L767.7,289.1 L762.0,299.6" stroke-width="2.6" stroke-opacity="0.58"/>
<path d="M963.6,84.1 L962.8,84.6 L962.2,85.3 L961.3,85.7 L960.4,85.9" stroke-width="1.5" stroke-opacity="0.55"/>
<path d="M963.6,84.1 L966.5,76.7 L971.4,70.4 L972.6,62.4 L970.9,54.6" stroke-width="2.0" stroke-opacity="0.84"/>
<path d="M960.4,85.9 L951.7,87.7 L943.3,90.7 L935.6,86.3 L927.5,82.5" stroke-width="1.5" stroke-opacity="0.44"/>
<path d="M923.0,59.9 L926.2,65.0 L927.1,70.9 L926.4,76.7 L927.5,82.5" stroke-width="2.6" stroke-opacity="0.85"/>
<path d="M953.8,121.8 L949.9,119.3 L945.7,117.5 L941.2,116.4 L936.6,115.6" stroke-width="1.0" stroke-opacity="0.67"/>
<path d="M936.6,115.6 L932.7,107.8 L932.2,99.0 L930.7,90.5 L927.5,82.5" stroke-width="2.6" stroke-opacity="0.72"/>
<path d="M927.5,82.5 L927.5,82.5 L927.5,82.5 L927.5,82.5 L927.5,82.5" stroke-width="2.0" stroke-opacity="0.39"/>
<path d="M917.5,54.8 L919.1,55.8 L920.7,56.9 L921.5,58.7 L923.0,59.9" stroke-width="1.0" stroke-opacity="0.48"/>
<path d="M982.8,51.6 L986.2,49.6 L989.8,48.0 L991.0,44.1 L993.6,41.0" stroke-width="1.0" stroke-opacity="0.46"/>
<path d="M982.8,51.6 L979.6,51.3 L976.5,51.5 L973.9,53.4 L970.9,54.6" stroke-width="2.6" stroke-opacity="0.47"/>
<path d="M927.5,82.5 L923.8,84.8 L919.6,85.8 L916.0,88.2 L913.2,91.6" stroke-width="2.0" stroke-opacity="0.62"/>
<path d="M784.4,145.3 L790.0,148.7 L796.3,150.3 L802.9,151.1 L808.7,154.2" stroke-width="1.0" stroke-opacity="0.48"/>
<path d="M813.5,110.0 L809.9,109.2 L806.2,108.8 L803.0,107.1 L799.7,105.3" stroke-width="2.0" stroke-opacity="0.49"/>
<path d="M779.7,127.1 L780.2,131.9 L780.1,136.7 L781.8,141.2 L784.4,145.3" stroke-width="2.6" stroke-opacity="0.72"/>
<path d="M813.5,110.0 L817.5,114.4 L822.9,117.0 L823.2,122.9 L824.6,128.6" stroke-width="1.0" stroke-opacity="0.74"/>
<path d="M820.0,151.2 L821.9,145.7 L822.0,139.9 L823.1,134.2 L824.6,128.6" stroke-width="1.0" stroke-opacity="0.48"/>
<path d="M913.2,91.6 L914.0,95.3 L913.9,99.2 L912.0,102.5 L909.4,105.4" stroke-width="1.0" stroke-opacity="0.35"/>
<path d="M936.6,115.6 L934.1,117.1 L932.0,119.0 L929.1,118.9 L926.3,119.8" stroke-width="1.0" stroke-opacity="0.47"/>
<path d="M909.4,105.4 L914.3,108.2 L917.8,112.6 L922.7,115.5 L926.3,119.8" stroke-width="2.6" stroke-opacity="0.59"/>
<path d="M947.6,141.4 L940.4,139.7 L933.1,140.3 L925.7,139.7 L918.5,141.6" stroke-width="2.6" stroke-opacity="0.32"/>
<path d="M954.0,122.2 L954.0,122.1 L953.9,122.0 L953.9,121.9 L953.8,121.8" stroke-width="1.5" stroke-opacity="0.79"/>
<path d="M926.3,119.8 L923.5,124.9 L922.9,130.8 L921.1,136.4 L918.5,141.6" stroke-width="1.5" stroke-opacity="0.34"/>
<path d="M1166.0,182.0 L1161.8,173.9 L1160.7,164.8 L1163.6,156.3 L1166.0,147.6" stroke-width="1.0" stroke-opacity="0.65"/>
<path d="M1131.1,188.4 L1130.1,186.7 L1128.9,185.1 L1128.6,183.2 L1127.9,181.4" stroke-width="2.6" stroke-opacity="0.66"/>
<path d="M1141.0,150.2 L1139.5,158.8 L1138.6,167.5 L1133.3,174.5 L1127.9,181.4" stroke-width="1.0" stroke-opacity="0.68"/>
<path d="M1166.0,147.6 L1167.6,136.6 L1166.9,125.6 L1166.0,114.7 L1166.0,103.7" stroke-width="1.0" stroke-opacity="0.47"/>
<path d="M1141.0,150.2 L1137.8,146.0 L1134.0,142.3 L1130.4,138.5 L1126.5,135.0" stroke-width="1.0" stroke-opacity="0.79"/>
<path d="M1126.8,109.8 L1128.6,107.2 L1131.1,105.1 L1134.3,104.4 L1137.0,102.7" stroke-width="1.0" stroke-opacity="0.85"/>
<path d="M1166.0,80.7 L1163.8,72.9 L1163.7,64.8 L1164.7,56.8 L1166.0,48.9" stroke-width="1.5" stroke-opacity="0.36"/>
<path d="M1166.0,103.7 L1166.0,97.9 L1165.9,92.2 L1166.6,86.4 L1166.0,80.7" stroke-width="2.6" stroke-opacity="0.57"/>
<path d="M1143.9,50.8 L1142.7,56.4 L1143.9,62.0 L1141.9,67.3 L1141.1,72.9" stroke-width="2.6" stroke-opacity="0.79"/>
<path d="M1141.1,72.9 L1141.3,73.2 L1141.3,73.6 L1141.5,73.9 L1141.8,74.1" stroke-width="1.0" stroke-opacity="0.41"/>
<path d="M1141.8,74.1 L1147.6,76.6 L1153.4,79.1 L1159.8,78.9 L1166.0,80.7" stroke-width="1.5" stroke-opacity="0.48"/>
<path d="M1147.5,47.1 L1152.1,45.6 L1157.0,45.7 L1161.5,47.2 L1166.0,48.9" stroke-width="1.0" stroke-opacity="0.52"/>
<path d="M1147.5,47.1 L1147.0,48.4 L1146.0,49.3 L1145.0,50.1 L1143.9,50.8" stroke-width="2.6" stroke-opacity="0.46"/>
<path d="M1166.0,11.0 L1164.3,20.6 L1161.8,29.9 L1162.3,39.8 L1166.0,48.9" stroke-width="2.6" stroke-opacity="0.85"/>
<path d="M1141.8,74.1 L1139.9,81.3 L1136.4,87.9 L1137.9,95.3 L1137.0,102.7" stroke-width="2.6" stroke-opacity="0.67"/>
<path d="M1059.5,11.0 L1061.7,18.2 L1063.8,25.4 L1069.3,30.6 L1072.9,37.3" stroke-width="1.5" stroke-opacity="0.88"/>
<path d="M1118.2,11.0 L1114.9,19.7 L1114.7,29.0 L1109.1,36.4 L1101.2,41.5" stroke-width="2.0" stroke-opacity="0.51"/>
<path d="M1143.9,50.8 L1134.7,46.5 L1125.1,43.1 L1116.1,48.1 L1105.9,49.4" stroke-width="1.0" stroke-opacity="0.65"/>
<path d="M1101.2,41.5 L1102.1,43.6 L1103.3,45.6 L1104.5,47.6 L1105.9,49.4" stroke-width="2.0" stroke-opacity="0.41"/>
<path d="M1105.9,49.4 L1103.0,55.4 L1102.3,62.0 L1102.3,68.7 L1105.1,74.8" stroke-width="2.6" stroke-opacity="0.47"/>
<path d="M1126.8,109.8 L1124.4,103.4 L1119.7,98.4 L1113.1,97.0 L1106.7,94.9" stroke-width="1.5" stroke-opacity="0.55"/>
<path d="M1106.7,94.9 L1106.1,91.4 L1105.5,87.8 L1103.4,85.0 L1101.4,82.0" stroke-width="2.6" stroke-opacity="0.54"/>
<path d="M1101.4,82.0 L1101.3,79.8 L1102.1,77.8 L1103.8,76.5 L1105.1,74.8" stroke-width="1.0" stroke-opacity="0.71"/>
<path d="M954.0,122.2 L962.4,120.6 L970.9,120.6 L979.1,123.0 L986.8,126.8" stroke-width="2.0" stroke-opacity="0.76"/>
<path d="M997.0,100.7 L995.0,107.5 L993.9,114.5 L991.2,121.1 L986.8,126.8" stroke-width="1.5" stroke-opacity="0.72"/>
<path d="M982.8,51.6 L990.7,58.6 L995.2,68.2 L1003.5,74.5 L1011.2,81.4" stroke-width="1.0" stroke-opacity="0.65"/>
<path d="M997.0,100.7 L997.7,100.3 L998.3,99.9 L999.0,99.7 L999.7,99.5" stroke-width="2.6" stroke-opacity="0.73"/>
<path d="M947.6,141.4 L949.3,149.9 L948.7,158.6 L955.8,163.5 L961.6,169.9" stroke-width="1.0" stroke-opacity="0.43"/>
<path d="M988.7,132.8 L988.7,131.2 L988.0,129.7 L987.7,128.1 L986.8,126.8" stroke-width="2.6" stroke-opacity="0.62"/>
<path d="M961.6,172.4 L961.7,171.7 L961.9,171.1 L961.7,170.5 L961.6,169.9" stroke-width="1.0" stroke-opacity="0.32"/>
<path d="M976.1,180.9 L982.3,181.3 L987.9,183.9 L994.0,184.0 L999.9,185.8" stroke-width="2.6" stroke-opacity="0.36"/>
<path d="M1003.0,183.2 L1002.0,183.6 L1000.9,183.9 L1000.5,184.9 L999.9,185.8" stroke-width="1.5" stroke-opacity="0.73"/>
<path d="M961.6,172.4 L965.5,174.5 L969.8,175.0 L972.4,178.5 L976.1,180.9" stroke-width="1.0" stroke-opacity="0.37"/>
<path d="M1003.0,183.2 L1000.2,173.7 L999.8,163.8 L1003.9,154.6 L1011.3,147.9" stroke-width="2.0" stroke-opacity="0.39"/>
<path d="M988.7,132.8 L995.9,133.5 L1002.6,136.4 L1006.0,142.9 L1011.3,147.9" stroke-width="1.5" stroke-opacity="0.51"/>
<path d="M1068.2,183.8 L1076.5,184.8 L1084.9,184.5 L1092.4,180.8 L1099.7,176.9" stroke-width="1.5" stroke-opacity="0.68"/>
<path d="M1099.7,176.9 L1096.6,171.7 L1093.1,166.9 L1093.2,160.8 L1091.0,155.0" stroke-width="2.0" stroke-opacity="0.69"/>
<path d="M1068.2,183.8 L1066.1,177.5 L1061.9,172.2 L1062.7,165.5 L1066.0,159.6" stroke-width="2.6" stroke-opacity="0.39"/>
<path d="M1066.0,159.6 L1072.5,161.0 L1079.1,160.8 L1085.0,157.8 L1091.0,155.0" stroke-width="2.0" stroke-opacity="0.34"/>
<path d="M1081.0,123.4 L1084.1,128.6 L1086.8,134.1 L1092.5,136.3 L1097.8,139.4" stroke-width="1.0" stroke-opacity="0.61"/>
<path d="M1127.9,181.4 L1122.1,182.2 L1116.3,181.5 L1110.6,180.4 L1104.8,180.4" stroke-width="2.0" stroke-opacity="0.82"/>
<path d="M1091.0,155.0 L1092.8,151.0 L1092.9,146.6 L1095.4,143.0 L1097.8,139.4" stroke-width="2.0" stroke-opacity="0.37"/>
<path d="M1034.7,216.9 L1038.9,222.0 L1043.4,226.8 L1050.0,225.7 L1056.5,227.2" stroke-width="2.0" stroke-opacity="0.61"/>
<path d="M1034.7,216.9 L1041.3,213.4 L1046.1,207.6 L1045.8,200.2 L1048.0,193.0" stroke-width="2.0" stroke-opacity="0.40"/>
<path d="M1056.5,227.2 L1062.3,224.6 L1067.7,221.3 L1071.4,216.2 L1073.9,210.4" stroke-width="2.6" stroke-opacity="0.44"/>
<path d="M1048.0,193.0 L1051.7,193.3 L1055.2,194.5 L1058.9,194.0 L1062.6,193.5" stroke-width="2.0" stroke-opacity="0.89"/>
<path d="M1086.4,215.3 L1087.3,204.8 L1088.8,194.3 L1097.3,187.9 L1104.8,180.4" stroke-width="1.5" stroke-opacity="0.46"/>
<path d="M1068.2,183.8 L1066.8,186.3 L1065.2,188.6 L1063.9,191.0 L1062.6,193.5" stroke-width="1.0" stroke-opacity="0.49"/>
<path d="M1086.4,215.3 L1083.0,214.4 L1079.5,214.6 L1077.1,212.0 L1073.9,210.4" stroke-width="2.6" stroke-opacity="0.59"/>
<path d="M1003.0,183.2 L1011.4,184.4 L1019.5,187.2 L1028.0,185.6 L1035.9,182.5" stroke-width="1.5" stroke-opacity="0.51"/>
<path d="M999.9,185.8 L1000.0,195.0 L996.6,203.5 L1000.1,211.9 L1005.7,219.1" stroke-width="2.0" stroke-opacity="0.54"/>
<path d="M1034.7,216.9 L1032.3,220.1 L1029.3,222.8 L1025.3,223.0 L1021.3,223.6" stroke-width="2.0" stroke-opacity="0.37"/>
<path d="M1005.7,219.1 L1008.6,222.5 L1012.6,224.5 L1017.1,224.8 L1021.3,223.6" stroke-width="2.0" stroke-opacity="0.42"/>
<path d="M1056.2,246.3 L1050.7,242.3 L1044.2,240.3 L1037.6,241.1 L1031.0,242.5" stroke-width="2.6" stroke-opacity="0.62"/>
<path d="M1021.3,223.6 L1024.1,228.1 L1026.0,233.1 L1029.3,237.4 L1031.0,242.5" stroke-width="1.5" stroke-opacity="0.78"/>
<path d="M1004.4,284.0 L1006.8,285.1 L1008.9,286.7 L1009.8,289.1 L1010.0,291.8" stroke-width="1.0" stroke-opacity="0.43"/>
<path d="M1027.0,295.3 L1022.7,294.8 L1018.4,294.1 L1014.0,293.5 L1010.0,291.8" stroke-width="2.6" stroke-opacity="0.48"/>
<path d="M1048.9,286.0 L1044.0,277.9 L1036.5,272.1 L1029.9,265.3 L1025.0,257.3" stroke-width="2.0" stroke-opacity="0.74"/>
<path d="M1027.0,295.3 L1033.3,294.6 L1039.6,294.5 L1044.3,290.3 L1048.9,286.0" stroke-width="1.5" stroke-opacity="0.71"/>
<path d="M1005.8,262.1 L1010.8,260.3 L1014.6,256.6 L1019.9,255.9 L1025.0,257.3" stroke-width="2.6" stroke-opacity="0.49"/>
<path d="M784.4,145.3 L781.2,152.6 L776.3,158.9 L769.8,163.7 L762.0,165.9" stroke-width="2.0" stroke-opacity="0.66"/>
<path d="M779.7,127.1 L774.8,126.8 L770.1,127.9 L766.4,124.7 L762.0,122.6" stroke-width="1.5" stroke-opacity="0.64"/>
<path d="M762.0,170.7 L761.0,181.4 L761.2,192.0 L761.9,202.6 L762.0,213.3" stroke-width="2.6" stroke-opacity="0.54"/>
<path d="M762.0,165.9 L762.4,167.2 L762.8,168.3 L762.3,169.5 L762.0,170.7" stroke-width="2.6" stroke-opacity="0.74"/>
<path d="M762.0,254.6 L767.5,244.7 L770.9,234.0 L766.1,223.8 L762.0,213.3" stroke-width="2.6" stroke-opacity="0.77"/>
<path d="M792.1,185.3 L785.4,180.0 L777.9,176.2 L770.0,173.4 L762.0,170.7" stroke-width="1.5" stroke-opacity="0.83"/>
<path d="M792.1,185.3 L795.2,177.0 L799.9,169.5 L805.7,162.6 L808.7,154.2" stroke-width="2.6" stroke-opacity="0.72"/>
<path d="M781.1,251.0 L785.7,250.0 L789.5,247.3 L790.6,242.7 L793.4,238.9" stroke-width="1.5" stroke-opacity="0.90"/>
<path d="M762.0,254.6 L766.4,251.9 L770.9,249.2 L776.2,249.1 L781.1,251.0" stroke-width="1.0" stroke-opacity="0.42"/>
<path d="M762.0,213.3 L769.1,212.7 L776.0,211.4 L782.7,213.8 L789.9,214.3" stroke-width="2.0" stroke-opacity="0.86"/>
<path d="M793.4,238.9 L791.5,232.8 L792.4,226.5 L790.8,220.4 L789.9,214.3" stroke-width="1.0" stroke-opacity="0.38"/>
<path d="M795.4,193.2 L794.4,191.2 L793.0,189.5 L792.3,187.4 L792.1,185.3" stroke-width="2.6" stroke-opacity="0.84"/>
<path d="M789.9,214.3 L790.4,213.3 L790.7,212.3 L791.6,211.7 L792.5,211.2" stroke-width="1.0" stroke-opacity="0.62"/>
<path d="M817.9,321.0 L817.7,321.0 L817.5,321.0 L817.4,321.0 L817.2,321.0" stroke-width="1.0" stroke-opacity="0.35"/>
<path d="M830.5,284.1 L823.6,292.1 L816.3,299.9 L815.8,310.5 L817.9,321.0" stroke-width="2.6" stroke-opacity="0.83"/>
<path d="M795.0,288.5 L796.5,298.9 L800.6,308.5 L807.9,316.1 L817.2,321.0" stroke-width="1.0" stroke-opacity="0.35"/>
<path d="M819.0,271.9 L814.7,276.2 L809.8,279.8 L803.9,281.3 L798.2,283.4" stroke-width="1.5" stroke-opacity="0.86"/>
<path d="M795.0,288.5 L795.4,287.0 L795.9,285.5 L797.2,284.6 L798.2,283.4" stroke-width="2.0" stroke-opacity="0.64"/>
<path d="M858.9,292.6 L857.1,299.7 L856.3,307.0 L858.9,313.8 L860.3,321.0" stroke-width="2.0" stroke-opacity="0.59"/>
<path d="M860.3,321.0 L849.8,325.4 L839.1,329.3 L828.3,325.7 L817.9,321.0" stroke-width="1.0" stroke-opacity="0.66"/>
<path d="M762.0,321.0 L776.2,325.5 L789.6,332.0 L803.2,325.9 L817.2,321.0" stroke-width="1.5" stroke-opacity="0.83"/>
<path d="M781.1,251.0 L783.2,260.3 L785.2,269.6 L790.3,277.8 L798.2,283.4" stroke-width="2.0" stroke-opacity="0.48"/>
<path d="M793.4,238.9 L800.1,243.4 L805.9,249.0 L813.7,251.1 L821.9,250.8" stroke-width="1.0" stroke-opacity="0.61"/>
<path d="M823.3,255.6 L823.0,254.3 L823.2,253.0 L822.8,251.8 L821.9,250.8" stroke-width="2.0" stroke-opacity="0.83"/>
<path d="M823.3,255.6 L822.8,260.1 L823.8,264.5 L821.4,268.2 L819.0,271.9" stroke-width="1.5" stroke-opacity="0.61"/>
<path d="M844.4,79.5 L841.1,75.5 L837.3,71.9 L835.3,67.0 L831.6,63.2" stroke-width="1.0" stroke-opacity="0.78"/>
<path d="M863.5,85.0 L858.7,83.7 L853.9,82.4 L849.4,79.9 L844.4,79.5" stroke-width="2.6" stroke-opacity="0.61"/>
<path d="M863.5,85.0 L864.3,84.1 L865.0,83.2 L865.9,82.6 L867.0,82.2" stroke-width="1.0" stroke-opacity="0.86"/>
<path d="M856.7,30.7 L853.1,34.1 L848.4,36.1 L843.4,36.0 L838.5,36.8" stroke-width="1.0" stroke-opacity="0.84"/>
<path d="M762.0,53.6 L764.8,59.3 L767.1,65.2 L763.4,70.5 L762.0,76.8" stroke-width="1.5" stroke-opacity="0.76"/>
<path d="M762.0,11.0 L758.1,21.3 L758.2,32.3 L757.9,43.3 L762.0,53.6" stroke-width="1.5" stroke-opacity="0.82"/>
<path d="M787.2,83.2 L791.9,88.1 L797.4,92.0 L799.6,98.5 L799.7,105.3" stroke-width="2.0" stroke-opacity="0.54"/>
<path d="M866.1,147.5 L866.4,140.7 L864.2,134.2 L862.3,127.7 L861.7,121.0" stroke-width="1.5" stroke-opacity="0.85"/>
<path d="M866.1,147.5 L875.5,143.4 L885.6,142.5 L895.6,144.9 L905.7,143.5" stroke-width="2.6" stroke-opacity="0.42"/>
<path d="M895.4,119.8 L895.6,126.6 L896.5,133.4 L900.7,138.8 L905.7,143.5" stroke-width="2.0" stroke-opacity="0.34"/>
<path d="M895.4,119.8 L888.0,119.1 L881.5,115.7 L874.6,113.6 L867.7,111.6" stroke-width="2.0" stroke-opacity="0.75"/>
<path d="M867.7,111.6 L866.4,114.2 L864.2,116.0 L863.2,118.7 L861.7,121.0" stroke-width="1.0" stroke-opacity="0.39"/>
<path d="M820.0,151.2 L822.8,153.0 L826.0,153.7 L827.8,156.4 L828.7,159.6" stroke-width="2.6" stroke-opacity="0.55"/>
<path d="M824.6,128.6 L834.2,130.4 L843.9,128.4 L853.2,125.6 L861.7,121.0" stroke-width="2.6" stroke-opacity="0.36"/>
<path d="M909.2,146.6 L908.4,145.7 L907.8,144.7 L906.8,144.1 L905.7,143.5" stroke-width="1.5" stroke-opacity="0.62"/>
<path d="M918.5,141.6 L915.6,141.6 L912.8,142.1 L911.1,144.4 L909.2,146.6" stroke-width="2.0" stroke-opacity="0.59"/>
<path d="M909.4,105.4 L906.3,109.4 L903.2,113.4 L899.6,117.0 L895.4,119.8" stroke-width="2.0" stroke-opacity="0.46"/>
<path d="M863.5,85.0 L865.5,91.5 L866.3,98.2 L866.0,105.0 L867.7,111.6" stroke-width="1.5" stroke-opacity="0.52"/>
<path d="M844.4,79.5 L834.3,85.0 L823.5,89.3 L818.3,99.5 L813.5,110.0" stroke-width="2.6" stroke-opacity="0.57"/>
<path d="M961.6,172.4 L955.9,173.9 L950.0,173.6 L945.3,177.3 L942.4,182.6" stroke-width="2.6" stroke-opacity="0.78"/>
<path d="M942.4,182.6 L938.4,179.0 L935.0,175.0 L929.8,173.6 L924.5,173.2" stroke-width="2.0" stroke-opacity="0.47"/>
<path d="M909.2,146.6 L909.2,148.6 L908.7,150.4 L909.4,152.3 L909.3,154.2" stroke-width="2.6" stroke-opacity="0.79"/>
<path d="M909.3,154.2 L913.6,158.7 L918.4,162.5 L922.4,167.3 L924.5,173.2" stroke-width="2.6" stroke-opacity="0.70"/>
<path d="M810.8,11.0 L823.0,12.0 L835.1,13.5 L847.0,10.8 L859.3,11.0" stroke-width="2.6" stroke-opacity="0.59"/>
<path d="M838.5,36.8 L829.3,32.7 L820.0,28.9 L815.9,19.7 L810.8,11.0" stroke-width="2.0" stroke-opacity="0.85"/>
<path d="M903.8,11.0 L892.4,9.5 L881.6,5.7 L870.2,7.4 L859.3,11.0" stroke-width="1.5" stroke-opacity="0.50"/>
<path d="M1072.9,37.3 L1069.2,42.6 L1066.4,48.5 L1063.0,54.0 L1060.4,60.0" stroke-width="1.5" stroke-opacity="0.71"/>
<path d="M1022.1,41.5 L1022.1,41.5 L1022.1,41.5 L1022.1,41.6 L1022.1,41.6" stroke-width="1.0" stroke-opacity="0.64"/>
<path d="M1060.4,60.0 L1050.3,56.6 L1041.3,50.8 L1031.5,46.7 L1022.1,41.6" stroke-width="1.5" stroke-opacity="0.36"/>
<path d="M1011.2,81.4 L1013.6,80.9 L1016.0,80.7 L1017.3,78.6 L1019.3,77.1" stroke-width="1.5" stroke-opacity="0.39"/>
<path d="M1056.2,246.3 L1059.5,249.5 L1062.8,252.7 L1065.9,256.2 L1067.6,260.4" stroke-width="2.0" stroke-opacity="0.50"/>
<path d="M1067.6,260.4 L1072.0,260.4 L1075.9,258.6 L1079.3,256.0 L1083.0,253.8" stroke-width="2.6" stroke-opacity="0.40"/>
<path d="M1086.4,215.3 L1087.1,215.9 L1087.6,216.6 L1088.0,217.4 L1088.6,218.0" stroke-width="2.6" stroke-opacity="0.75"/>
<path d="M1083.0,253.8 L1084.0,244.6 L1082.5,235.4 L1087.4,227.4 L1088.6,218.0" stroke-width="1.0" stroke-opacity="0.82"/>
<path d="M1166.0,254.9 L1155.8,256.5 L1145.5,256.9 L1136.2,252.5 L1126.4,249.1" stroke-width="2.0" stroke-opacity="0.86"/>
<path d="M1121.4,222.0 L1124.7,228.2 L1125.2,235.3 L1125.2,242.3 L1126.4,249.1" stroke-width="1.5" stroke-opacity="0.78"/>
<path d="M1129.8,299.5 L1128.6,304.8 L1128.2,310.3 L1129.1,315.6 L1129.7,321.0" stroke-width="1.5" stroke-opacity="0.43"/>
<path d="M1166.0,321.0 L1156.7,320.3 L1147.9,317.1 L1139.2,320.7 L1129.7,321.0" stroke-width="1.0" stroke-opacity="0.45"/>
<path d="M1066.0,159.6 L1063.5,158.0 L1060.7,157.2 L1059.4,154.6 L1057.5,152.4" stroke-width="1.5" stroke-opacity="0.75"/>
<path d="M1043.5,157.7 L1047.3,157.1 L1051.2,157.1 L1054.5,155.0 L1057.5,152.4" stroke-width="1.5" stroke-opacity="0.51"/>
<path d="M1055.4,286.0 L1055.7,285.2 L1056.0,284.4 L1056.7,283.8 L1057.4,283.4" stroke-width="2.0" stroke-opacity="0.56"/>
<path d="M1057.4,283.4 L1067.2,287.9 L1078.0,288.1 L1088.4,285.9 L1099.0,286.2" stroke-width="1.0" stroke-opacity="0.37"/>
<path d="M1099.0,286.2 L1093.2,294.8 L1084.8,300.7 L1083.5,310.8 L1084.4,321.0" stroke-width="2.0" stroke-opacity="0.82"/>
<path d="M1072.3,321.0 L1075.3,321.7 L1078.4,322.6 L1081.3,321.6 L1084.4,321.0" stroke-width="1.5" stroke-opacity="0.43"/>
<path d="M1025.0,257.3 L1026.7,253.6 L1026.7,249.4 L1028.6,245.8 L1031.0,242.5" stroke-width="2.0" stroke-opacity="0.45"/>
<path d="M1048.9,286.0 L1050.4,286.9 L1052.2,287.3 L1053.9,286.8 L1055.4,286.0" stroke-width="2.6" stroke-opacity="0.43"/>
<path d="M1026.0,321.0 L1037.3,316.2 L1049.1,312.9 L1060.9,316.5 L1072.3,321.0" stroke-width="1.5" stroke-opacity="0.86"/>
<path d="M1027.0,295.3 L1023.4,301.3 L1021.0,307.9 L1024.5,314.1 L1026.0,321.0" stroke-width="2.6" stroke-opacity="0.41"/>
<path d="M1129.7,321.0 L1118.1,317.4 L1107.1,312.2 L1096.4,318.1 L1084.4,321.0" stroke-width="2.0" stroke-opacity="0.37"/>
<path d="M924.3,321.0 L918.1,322.5 L911.9,321.4 L905.7,320.6 L899.4,321.0" stroke-width="2.0" stroke-opacity="0.77"/>
<path d="M860.3,321.0 L870.1,321.1 L879.9,321.6 L889.7,322.1 L899.4,321.0" stroke-width="1.5" stroke-opacity="0.89"/>
<path d="M799.6,35.9 L798.6,38.2 L797.1,40.1 L796.2,42.5 L794.5,44.4" stroke-width="1.5" stroke-opacity="0.46"/>
<path d="M801.5,11.0 L802.4,17.3 L802.6,23.6 L801.2,29.8 L799.6,35.9" stroke-width="1.0" stroke-opacity="0.49"/>
<path d="M762.0,53.6 L770.6,51.6 L779.4,52.9 L786.5,47.9 L794.5,44.4" stroke-width="1.5" stroke-opacity="0.71"/>
<path d="M787.2,83.2 L790.0,80.6 L793.4,79.1 L795.1,75.7 L797.6,72.9" stroke-width="1.5" stroke-opacity="0.50"/>
<path d="M792.5,211.2 L799.7,215.8 L808.1,217.1 L816.5,217.0 L824.8,215.7" stroke-width="2.6" stroke-opacity="0.49"/>
<path d="M828.7,159.6 L830.5,164.9 L831.6,170.3 L831.3,175.9 L831.6,181.5" stroke-width="1.0" stroke-opacity="0.82"/>
<path d="M826.0,187.0 L826.6,185.0 L828.1,183.5 L829.7,182.2 L831.6,181.5" stroke-width="2.0" stroke-opacity="0.68"/>
<path d="M824.8,215.7 L827.5,218.1 L830.7,219.7 L833.0,222.5 L835.6,224.9" stroke-width="2.6" stroke-opacity="0.35"/>
<path d="M871.5,172.6 L866.5,177.3 L862.3,182.7 L859.2,188.7 L855.8,194.6" stroke-width="1.0" stroke-opacity="0.88"/>
<path d="M871.5,172.6 L874.9,174.0 L878.4,175.3 L882.1,174.5 L885.8,175.2" stroke-width="1.0" stroke-opacity="0.45"/>
<path d="M885.8,175.2 L890.4,178.9 L894.0,183.7 L895.6,189.4 L896.7,195.3" stroke-width="2.0" stroke-opacity="0.53"/>
<path d="M858.4,207.4 L868.7,205.7 L878.1,201.3 L887.7,205.2 L897.3,208.8" stroke-width="1.5" stroke-opacity="0.57"/>
<path d="M897.3,208.8 L896.9,205.4 L897.3,202.0 L897.5,198.6 L896.7,195.3" stroke-width="1.5" stroke-opacity="0.50"/>
<path d="M831.6,181.5 L837.0,186.4 L841.5,192.2 L848.6,193.9 L855.8,194.6" stroke-width="2.6" stroke-opacity="0.82"/>
<path d="M924.5,173.2 L916.0,176.8 L907.3,180.0 L902.8,188.2 L896.7,195.3" stroke-width="2.0" stroke-opacity="0.51"/>
<path d="M976.1,180.9 L977.1,191.7 L977.0,202.6 L971.6,212.1 L965.9,221.4" stroke-width="1.5" stroke-opacity="0.87"/>
<path d="M1004.4,284.0 L996.1,285.5 L987.6,286.1 L978.9,285.6 L971.2,281.6" stroke-width="1.5" stroke-opacity="0.48"/>
<path d="M971.2,281.6 L970.6,275.1 L971.1,268.6 L973.7,262.6 L975.1,256.3" stroke-width="2.6" stroke-opacity="0.32"/>
<path d="M975.1,256.3 L980.2,255.6 L984.8,253.5 L988.0,249.5 L990.6,245.3" stroke-width="1.5" stroke-opacity="0.45"/>
<path d="M933.8,210.8 L940.9,211.2 L947.7,213.3 L953.2,217.8 L958.1,222.9" stroke-width="2.0" stroke-opacity="0.51"/>
<path d="M930.8,212.9 L933.6,223.5 L936.1,234.2 L938.0,245.0 L937.8,256.0" stroke-width="1.5" stroke-opacity="0.51"/>
<path d="M958.1,222.9 L956.5,229.3 L954.9,235.7 L955.6,242.3 L954.5,248.9" stroke-width="1.5" stroke-opacity="0.78"/>
<path d="M937.8,256.0 L942.1,254.5 L946.0,252.2 L950.4,251.0 L954.5,248.9" stroke-width="1.5" stroke-opacity="0.79"/>
<path d="M942.4,182.6 L939.9,189.7 L935.4,195.9 L933.9,203.3 L933.8,210.8" stroke-width="2.6" stroke-opacity="0.46"/>
<path d="M905.1,218.0 L910.9,214.3 L917.1,211.1 L924.1,210.6 L930.8,212.9" stroke-width="1.5" stroke-opacity="0.75"/>
<path d="M965.9,221.4 L963.9,221.2 L961.9,221.7 L960.1,222.7 L958.1,222.9" stroke-width="2.0" stroke-opacity="0.43"/>
<path d="M975.1,256.3 L969.7,255.3 L964.7,252.9 L959.6,250.8 L954.5,248.9" stroke-width="2.6" stroke-opacity="0.70"/>
<path d="M851.7,220.6 L856.4,227.8 L859.4,235.9 L864.9,242.4 L871.5,247.9" stroke-width="1.5" stroke-opacity="0.74"/>
<path d="M899.0,236.3 L891.0,236.2 L883.0,236.7 L877.8,242.8 L871.5,247.9" stroke-width="1.5" stroke-opacity="0.62"/>
<path d="M823.3,255.6 L834.5,253.8 L845.8,254.2 L856.5,257.7 L866.7,262.4" stroke-width="1.5" stroke-opacity="0.77"/>
<path d="M871.5,247.9 L871.9,252.0 L872.1,256.1 L869.8,259.6 L866.7,262.4" stroke-width="2.0" stroke-opacity="0.89"/>
<path d="M858.9,292.6 L861.4,288.2 L864.5,284.1 L866.1,279.1 L869.5,275.2" stroke-width="1.0" stroke-opacity="0.84"/>
<path d="M896.8,281.3 L889.8,280.7 L882.9,279.2 L875.9,278.2 L869.5,275.2" stroke-width="2.6" stroke-opacity="0.77"/>
<path d="M1060.9,81.7 L1060.5,81.7 L1060.2,81.6 L1060.0,81.2 L1059.8,80.9" stroke-width="2.0" stroke-opacity="0.73"/>
<path d="M1060.9,81.7 L1062.2,92.0 L1066.5,101.4 L1070.5,111.0 L1070.3,121.4" stroke-width="2.6" stroke-opacity="0.48"/>
<path d="M1048.5,83.8 L1048.0,94.7 L1046.6,105.5 L1037.9,112.2 L1030.2,119.9" stroke-width="1.5" stroke-opacity="0.40"/>
<path d="M1060.5,129.2 L1052.9,127.1 L1046.4,122.8 L1038.8,121.0 L1031.0,121.8" stroke-width="2.0" stroke-opacity="0.74"/>
<path d="M1101.4,82.0 L1091.1,85.2 L1081.1,89.1 L1071.0,85.4 L1060.9,81.7" stroke-width="1.0" stroke-opacity="0.60"/>
<path d="M1081.0,123.4 L1078.3,122.9 L1075.6,122.4 L1072.9,122.0 L1070.3,121.4" stroke-width="1.0" stroke-opacity="0.41"/>
<path d="M1019.3,77.1 L1027.0,76.4 L1034.6,77.4 L1041.2,81.5 L1048.5,83.8" stroke-width="1.5" stroke-opacity="0.38"/>
<path d="M999.7,99.5 L1007.7,104.1 L1014.7,110.0 L1023.1,114.1 L1030.2,119.9" stroke-width="2.0" stroke-opacity="0.61"/>
<path d="M1057.5,152.4 L1061.5,147.4 L1063.8,141.4 L1061.9,135.4 L1060.5,129.2" stroke-width="1.5" stroke-opacity="0.58"/>
<path d="M1019.9,144.1 L1022.6,138.2 L1022.8,131.7 L1026.0,126.0 L1031.0,121.8" stroke-width="2.0" stroke-opacity="0.70"/>
<path d="M1121.2,254.3 L1113.9,255.1 L1107.4,258.5 L1100.2,258.1 L1093.1,257.1" stroke-width="1.0" stroke-opacity="0.66"/>
<path d="M1121.2,254.3 L1120.2,263.8 L1116.0,272.3 L1119.8,280.8 L1122.9,289.6" stroke-width="2.0" stroke-opacity="0.87"/>
<path d="M1083.0,253.8 L1085.8,253.5 L1088.7,253.4 L1091.2,254.8 L1093.1,257.1" stroke-width="2.6" stroke-opacity="0.88"/>
<path d="M1126.4,249.1 L1125.5,250.8 L1124.2,252.1 L1123.0,253.6 L1121.2,254.3" stroke-width="2.6" stroke-opacity="0.36"/>
<path d="M1099.0,286.2 L1099.2,286.1 L1099.4,285.9 L1099.6,285.8 L1099.9,285.7" stroke-width="1.5" stroke-opacity="0.51"/>
<path d="M907.4,248.2 L914.7,251.0 L922.6,251.1 L928.8,255.9 L936.4,257.9" stroke-width="2.6" stroke-opacity="0.37"/>
<path d="M936.4,284.4 L936.5,284.3 L936.6,284.1 L936.8,284.0 L937.0,283.9" stroke-width="1.5" stroke-opacity="0.85"/>
<path d="M899.0,236.3 L902.4,238.1 L904.8,241.1 L906.4,244.6 L907.4,248.2" stroke-width="1.5" stroke-opacity="0.44"/>
<path d="M896.8,281.3 L898.0,281.0 L899.3,281.1 L900.1,280.1 L901.0,279.2" stroke-width="2.6" stroke-opacity="0.80"/>
<path d="M924.3,321.0 L931.9,314.0 L937.2,305.0 L935.2,294.8 L936.4,284.4" stroke-width="2.6" stroke-opacity="0.64"/>
<path d="M937.8,256.0 L937.6,256.6 L937.3,257.1 L936.9,257.5 L936.4,257.9" stroke-width="2.0" stroke-opacity="0.49"/>
<path d="M963.6,288.7 L966.4,288.1 L968.7,286.5 L969.8,283.9 L971.2,281.6" stroke-width="1.5" stroke-opacity="0.60"/>
<path d="M963.6,288.7 L956.9,287.0 L950.0,288.1 L943.4,286.5 L937.0,283.9" stroke-width="2.0" stroke-opacity="0.65"/>
<path d="M975.0,321.0 L978.4,321.3 L981.5,322.8 L984.9,322.2 L988.1,321.0" stroke-width="2.6" stroke-opacity="0.80"/>
<path d="M861.5,93.3 L877.5,97.0 L862.8,106.8Z" fill="#181810" fill-opacity="0.88" stroke="#181810" stroke-opacity="0.5" stroke-width="2.5"/>
<path d="M897.2,109.3 L909.5,108.1 L904.5,116.7 L896.0,115.4Z" fill="#181810" fill-opacity="0.88" stroke="#181810" stroke-opacity="0.5" stroke-width="2.5"/>
<path d="M809.9,108.1 L817.3,109.3 L812.4,114.2Z" fill="#181810" fill-opacity="0.88" stroke="#181810" stroke-opacity="0.5" stroke-width="2.5"/>
<path d="M1000.0,88.4 L1010.7,88.4 L1009.0,93.3 L1000.5,93.0Z" fill="#181810" fill-opacity="0.88" stroke="#181810" stroke-opacity="0.5" stroke-width="2.5"/>
<path d="M795.0,240.0 L805.0,238.0 L817.0,241.0 L818.0,250.0 L808.0,253.0 L797.0,251.0Z" fill="#181810" fill-opacity="0.88" stroke="#181810" stroke-opacity="0.5" stroke-width="2.5"/>
<path d="M860.3,242.2 L870.1,244.6 L877.5,260.6 L865.2,256.9Z" fill="#181810" fill-opacity="0.88" stroke="#181810" stroke-opacity="0.5" stroke-width="2.5"/>
<path d="M900.0,250.0 L911.0,249.6 L912.0,259.0 L903.0,260.6Z" fill="#181810" fill-opacity="0.88" stroke="#181810" stroke-opacity="0.5" stroke-width="2.5"/>
<path d="M844.0,210.0 L852.0,212.0 L851.0,225.0 L845.0,222.0Z" fill="#181810" fill-opacity="0.88" stroke="#181810" stroke-opacity="0.5" stroke-width="2.5"/>
<path d="M848.0,176.0 L860.0,177.0 L856.0,183.0 L849.0,182.0Z" fill="#181810" fill-opacity="0.88" stroke="#181810" stroke-opacity="0.5" stroke-width="2.5"/>
<path d="M924.0,286.0 L934.0,287.0 L932.0,294.0 L925.0,293.0Z" fill="#181810" fill-opacity="0.88" stroke="#181810" stroke-opacity="0.5" stroke-width="2.5"/>
<path d="M762.0,34.5 L769.4,46.8 L786.7,55.5 L797.8,41.9 L809.0,35.7 L821.3,32.0 L830.0,33.2 L836.2,43.1 L848.5,45.6 L856.0,51.8" stroke-width="2" stroke-opacity="0.9"/>
<path d="M836.2,43.1 L835.0,58.0 L836.2,70.3 L833.7,77.7" stroke-width="2.5" stroke-opacity="0.9"/>
<path d="M899.6,67.5 L899.6,92.1 L902.0,105.0" stroke-width="1.8" stroke-opacity="0.9"/>
<path d="M939.0,16.0 L940.0,43.0" stroke-width="2" stroke-opacity="0.9"/>
<path d="M946.3,20.8 L956.1,43.0" stroke-width="2" stroke-opacity="0.9"/>
<path d="M919.3,50.3 L934.0,47.9" stroke-width="2" stroke-opacity="0.9"/>
<path d="M887.3,126.5 L899.6,138.8" stroke-width="1.5" stroke-opacity="0.9"/>
<path d="M941.4,106.8 L951.2,114.2" stroke-width="1.5" stroke-opacity="0.9"/>
<path d="M919.3,151.0 L948.8,153.5" stroke-width="1.5" stroke-opacity="0.9"/>
<path d="M998.4,34.3 L1013.2,35.6" stroke-width="2" stroke-opacity="0.9"/>
<path d="M1052.5,39.3 L1067.2,43.0" stroke-width="2" stroke-opacity="0.9"/>
<path d="M1042.6,76.1 L1055.0,82.0 L1067.2,92.1" stroke-width="2" stroke-opacity="0.9"/>
<path d="M1072.0,104.0 L1091.8,106.8" stroke-width="1.8" stroke-opacity="0.9"/>
<path d="M1148.0,109.0 L1165.5,116.7" stroke-width="1.8" stroke-opacity="0.9"/>
<path d="M964.0,60.0 L971.0,72.0" stroke-width="1.5" stroke-opacity="0.9"/>
<path d="M816.0,245.0 L822.0,262.0 L828.0,277.0" stroke-width="2" stroke-opacity="0.9"/>
<path d="M931.6,173.0 L935.0,185.0 L939.0,198.0" stroke-width="1.8" stroke-opacity="0.9"/>
<path d="M762.0,269.0 L766.0,290.0 L769.0,313.0" stroke-width="2" stroke-opacity="0.9"/>
<path d="M996.0,222.5 L1001.0,245.0 L1006.0,264.0" stroke-width="2.2" stroke-opacity="0.9"/>
<path d="M964.0,208.0 L983.7,215.0" stroke-width="1.8" stroke-opacity="0.9"/>
<path d="M1013.0,178.0 L1025.0,185.0 L1037.7,188.0" stroke-width="1.8" stroke-opacity="0.9"/>
<path d="M1079.5,193.0 L1095.0,200.0 L1111.5,210.0" stroke-width="1.8" stroke-opacity="0.9"/>
<path d="M1131.0,215.0 L1155.7,225.0" stroke-width="1.8" stroke-opacity="0.9"/>
<path d="M1057.6,227.0 L1059.5,244.0" stroke-width="2" stroke-opacity="0.9"/>
<path d="M1124.0,190.6 L1133.6,217.6" stroke-width="1.5" stroke-opacity="0.9"/>
<ellipse cx="1055" cy="247" rx="6" ry="5" fill="#e4e4e0" fill-opacity="0.55" stroke="none"/>
<ellipse cx="1035" cy="258.5" rx="6" ry="2.5" fill="#e4e4e0" fill-opacity="0.5" stroke="none"/>
<path d="M1000.5,82.0 L1004.0,79.5 L1008.0,80.5 L1011.0,79.0 L1013.5,81.0 L1013.0,86.5 L1006.0,87.5 L1000.5,87.0Z" fill="#f6f4f6" fill-opacity="0.95" stroke="#f6f4f6" stroke-opacity="0.5" stroke-width="1"/>
<path d="M1012.6,240.0 L1016.0,238.3 L1022.0,239.0 L1026.0,241.0 L1025.0,246.5 L1018.0,247.2 L1013.0,246.0Z" fill="#f6f4f6" fill-opacity="0.95" stroke="#f6f4f6" stroke-opacity="0.5" stroke-width="1"/>
<path d="M1152.1,270.1 L1157.3,277.7 L1155.4,281.0 L1149.3,280.1 L1148.8,277.2Z" fill="#f6f4f6" fill-opacity="0.95" stroke="#f6f4f6" stroke-opacity="0.5" stroke-width="1"/>
<path d="M1149.5,280.5 L1150.5,282.0 L1146.5,287.2 L1144.8,286.0Z" fill="#f6f4f6" fill-opacity="0.95" stroke="#f6f4f6" stroke-opacity="0.5" stroke-width="1"/>
</g></g>
<clipPath id="clipc"><rect x="763" y="327" width="403" height="295"/></clipPath>
<filter id="nzc" x="763" y="327" width="403" height="295" filterUnits="userSpaceOnUse" color-interpolation-filters="sRGB">
<feTurbulence type="fractalNoise" baseFrequency="0.38" numOctaves="1" seed="25" result="t1"/>
<feColorMatrix in="t1" type="matrix" values="0.35 0.4 0 0 0.125  0.35 0.060 0 0 0.295  0.35 0.040 0 0 0.305  0 0 0 0 1" result="c1"/>
<feTurbulence type="fractalNoise" baseFrequency="0.15" numOctaves="2" seed="5" result="t2"/>
<feColorMatrix in="t2" type="matrix" values="1 0 0 0 0  1 0 0 0 0  1 0 0 0 0  0 0 0 0 1" result="c2"/>
<feComposite in="c1" in2="c2" operator="arithmetic" k1="0" k2="1" k3="0.6" k4="-0.300" result="n"/>
<feComposite in="SourceGraphic" in2="n" operator="arithmetic" k1="2" k2="0" k3="0" k4="0" result="b"/>
<feTurbulence type="fractalNoise" baseFrequency="0.3" numOctaves="2" seed="45" result="t3"/>
<feColorMatrix in="t3" type="matrix" values="1 0 0 0 0  1 0 0 0 0  1 0 0 0 0  0 0 0 0 1" result="c3"/>
<feComponentTransfer in="c3" result="m"><feFuncR type="linear" slope="4.5" intercept="-2.475"/><feFuncG type="linear" slope="4.5" intercept="-2.475"/><feFuncB type="linear" slope="4.5" intercept="-2.475"/></feComponentTransfer>
<feColorMatrix in="m" type="matrix" values="0.5 0 0 0 0  0.56 0 0 0 0  0.44 0 0 0 0  0 0 0 0 1" result="spk"/>
<feComposite in="b" in2="spk" operator="arithmetic" k1="0" k2="1" k3="1" k4="0"/>
<feGaussianBlur stdDeviation="0.45"/>
</filter>
<g clip-path="url(#clipc)"><g filter="url(#nzc)">
<rect x="763" y="327" width="403" height="295" fill="#626b44"/>
<path d="M763.0,362.0 L795.9,339.9 L796.3,327.0 L763.0,327.0Z" fill="#67704b" stroke="#67704b" stroke-width="0.6"/>
<path d="M795.9,339.9 L805.4,360.2 L802.9,382.9 L786.9,394.3 L763.0,389.0 L763.0,362.0Z" fill="#6a744b" stroke="#6a744b" stroke-width="0.6"/>
<path d="M763.0,389.0 L786.9,394.3 L794.8,423.6 L790.7,430.6 L763.0,425.0Z" fill="#565e3a" stroke="#565e3a" stroke-width="0.6"/>
<path d="M783.9,452.6 L790.7,430.6 L763.0,425.0 L763.0,463.8Z" fill="#798450" stroke="#798450" stroke-width="0.6"/>
<path d="M792.9,497.4 L763.0,481.0 L763.0,463.8 L783.9,452.6 L805.4,463.3Z" fill="#5e663e" stroke="#5e663e" stroke-width="0.6"/>
<path d="M801.0,507.2 L792.9,497.4 L763.0,481.0 L763.0,526.2 L798.4,515.0 L801.7,510.5Z" fill="#5c6541" stroke="#5c6541" stroke-width="0.6"/>
<path d="M798.4,515.0 L763.0,526.2 L763.0,552.9 L787.6,560.7 L798.4,556.9Z" fill="#5c6549" stroke="#5c6549" stroke-width="0.6"/>
<path d="M785.0,588.6 L787.6,560.7 L763.0,552.9 L763.0,601.8Z" fill="#616a48" stroke="#616a48" stroke-width="0.6"/>
<path d="M763.0,601.8 L785.0,588.6 L796.8,597.6 L805.9,622.0 L763.0,622.0Z" fill="#555e41" stroke="#555e41" stroke-width="0.6"/>
<path d="M832.9,327.0 L796.3,327.0 L795.9,339.9 L805.4,360.2 L841.3,353.1Z" fill="#4d553a" stroke="#4d553a" stroke-width="0.6"/>
<path d="M841.3,353.1 L805.4,360.2 L802.9,382.9 L817.1,387.1 L842.5,381.8 L842.8,354.2Z" fill="#717b47" stroke="#717b47" stroke-width="0.6"/>
<path d="M794.8,423.6 L786.9,394.3 L802.9,382.9 L817.1,387.1 L831.6,422.2 L824.5,428.3Z" fill="#656e42" stroke="#656e42" stroke-width="0.6"/>
<path d="M783.9,452.6 L790.7,430.6 L794.8,423.6 L824.5,428.3 L828.2,465.3 L805.4,463.3Z" fill="#596246" stroke="#596246" stroke-width="0.6"/>
<path d="M801.0,507.2 L829.2,471.9 L830.6,467.4 L828.2,465.3 L805.4,463.3 L792.9,497.4Z" fill="#656e44" stroke="#656e44" stroke-width="0.6"/>
<path d="M801.0,507.2 L829.2,471.9 L837.3,521.4 L801.7,510.5Z" fill="#5e6640" stroke="#5e6640" stroke-width="0.6"/>
<path d="M801.7,510.5 L837.3,521.4 L840.7,523.9 L812.1,559.9 L798.4,556.9 L798.4,515.0Z" fill="#66704a" stroke="#66704a" stroke-width="0.6"/>
<path d="M822.4,572.2 L812.1,559.9 L798.4,556.9 L787.6,560.7 L785.0,588.6 L796.8,597.6 L820.7,578.4Z" fill="#505738" stroke="#505738" stroke-width="0.6"/>
<path d="M820.7,578.4 L796.8,597.6 L805.9,622.0 L826.7,622.0Z" fill="#5e6743" stroke="#5e6743" stroke-width="0.6"/>
<path d="M832.9,327.0 L841.3,353.1 L842.8,354.2 L868.7,349.1 L874.8,327.0Z" fill="#737d49" stroke="#737d49" stroke-width="0.6"/>
<path d="M868.7,349.1 L869.8,350.8 L864.4,383.9 L851.1,388.4 L842.5,381.8 L842.8,354.2Z" fill="#5f683f" stroke="#5f683f" stroke-width="0.6"/>
<path d="M831.6,422.2 L817.1,387.1 L842.5,381.8 L851.1,388.4 L851.8,417.8Z" fill="#6f794a" stroke="#6f794a" stroke-width="0.6"/>
<path d="M830.6,467.4 L828.2,465.3 L824.5,428.3 L831.6,422.2 L851.8,417.8 L863.4,425.3 L848.5,461.2 L833.2,467.4Z" fill="#6d774d" stroke="#6d774d" stroke-width="0.6"/>
<path d="M864.2,502.6 L877.1,483.0 L864.5,466.0 L848.5,461.2 L833.2,467.4Z" fill="#717b46" stroke="#717b46" stroke-width="0.6"/>
<path d="M840.7,523.9 L844.2,524.2 L862.9,514.4 L864.2,502.6 L833.2,467.4 L830.6,467.4 L829.2,471.9 L837.3,521.4Z" fill="#6a734c" stroke="#6a734c" stroke-width="0.6"/>
<path d="M823.2,572.3 L822.4,572.2 L812.1,559.9 L840.7,523.9 L844.2,524.2 L857.1,560.5Z" fill="#6d7746" stroke="#6d7746" stroke-width="0.6"/>
<path d="M823.2,572.3 L861.2,601.9 L872.0,577.2 L868.2,567.5 L857.1,560.5Z" fill="#656e48" stroke="#656e48" stroke-width="0.6"/>
<path d="M823.2,572.3 L822.4,572.2 L820.7,578.4 L826.7,622.0 L859.6,622.0 L861.2,601.9Z" fill="#707b53" stroke="#707b53" stroke-width="0.6"/>
<path d="M874.8,327.0 L882.5,327.0 L915.0,352.5 L914.4,356.7 L895.4,366.0 L869.8,350.8 L868.7,349.1Z" fill="#687148" stroke="#687148" stroke-width="0.6"/>
<path d="M869.8,350.8 L864.4,383.9 L887.6,388.9 L895.4,366.0Z" fill="#585f38" stroke="#585f38" stroke-width="0.6"/>
<path d="M864.4,383.9 L851.1,388.4 L851.8,417.8 L863.4,425.3 L880.0,425.9 L887.8,418.0 L894.0,403.2 L887.6,388.9Z" fill="#636c49" stroke="#636c49" stroke-width="0.6"/>
<path d="M848.5,461.2 L864.5,466.0 L887.0,444.8 L880.0,425.9 L863.4,425.3Z" fill="#68714a" stroke="#68714a" stroke-width="0.6"/>
<path d="M877.1,483.0 L889.9,480.1 L905.1,462.2 L887.0,444.8 L864.5,466.0Z" fill="#4a5136" stroke="#4a5136" stroke-width="0.6"/>
<path d="M862.9,514.4 L887.8,525.2 L905.7,512.8 L906.1,509.0 L889.9,480.1 L877.1,483.0 L864.2,502.6Z" fill="#677045" stroke="#677045" stroke-width="0.6"/>
<path d="M857.1,560.5 L844.2,524.2 L862.9,514.4 L887.8,525.2 L890.0,537.4 L868.2,567.5Z" fill="#646d45" stroke="#646d45" stroke-width="0.6"/>
<path d="M868.2,567.5 L890.0,537.4 L906.5,551.1 L906.2,579.2 L905.0,579.4 L872.0,577.2Z" fill="#677048" stroke="#677048" stroke-width="0.6"/>
<path d="M872.0,577.2 L905.0,579.4 L885.4,622.0 L859.6,622.0 L861.2,601.9Z" fill="#707b4d" stroke="#707b4d" stroke-width="0.6"/>
<path d="M930.3,327.0 L915.0,352.5 L882.5,327.0Z" fill="#677045" stroke="#677045" stroke-width="0.6"/>
<path d="M895.4,366.0 L914.4,356.7 L930.8,374.7 L933.0,394.6 L930.9,397.5 L894.0,403.2 L887.6,388.9Z" fill="#535b3d" stroke="#535b3d" stroke-width="0.6"/>
<path d="M887.8,418.0 L933.4,437.8 L935.3,435.5 L930.9,397.5 L894.0,403.2Z" fill="#758050" stroke="#758050" stroke-width="0.6"/>
<path d="M928.4,452.4 L933.4,437.8 L887.8,418.0 L880.0,425.9 L887.0,444.8 L905.1,462.2 L915.9,461.9Z" fill="#606841" stroke="#606841" stroke-width="0.6"/>
<path d="M923.8,486.6 L906.1,509.0 L889.9,480.1 L905.1,462.2 L915.9,461.9Z" fill="#5d6640" stroke="#5d6640" stroke-width="0.6"/>
<path d="M905.7,512.8 L906.1,509.0 L923.8,486.6 L935.3,491.8 L927.5,522.5Z" fill="#5b633e" stroke="#5b633e" stroke-width="0.6"/>
<path d="M938.2,531.7 L927.5,522.5 L905.7,512.8 L887.8,525.2 L890.0,537.4 L906.5,551.1 L934.6,541.3Z" fill="#535b34" stroke="#535b34" stroke-width="0.6"/>
<path d="M934.6,541.3 L906.5,551.1 L906.2,579.2 L920.6,585.6 L938.1,574.7 L938.0,554.0Z" fill="#576043" stroke="#576043" stroke-width="0.6"/>
<path d="M906.2,579.2 L920.6,585.6 L926.4,622.0 L885.4,622.0 L905.0,579.4Z" fill="#5e6743" stroke="#5e6743" stroke-width="0.6"/>
<path d="M915.0,352.5 L914.4,356.7 L930.8,374.7 L959.9,358.1 L968.1,343.8 L962.2,327.0 L930.3,327.0Z" fill="#606a48" stroke="#606a48" stroke-width="0.6"/>
<path d="M969.8,395.5 L959.9,358.1 L930.8,374.7 L933.0,394.6 L966.5,396.6Z" fill="#727b40" stroke="#727b40" stroke-width="0.6"/>
<path d="M955.6,433.7 L935.3,435.5 L930.9,397.5 L933.0,394.6 L966.5,396.6Z" fill="#545c39" stroke="#545c39" stroke-width="0.6"/>
<path d="M961.7,476.6 L972.8,446.3 L966.9,438.1 L955.6,433.7 L935.3,435.5 L933.4,437.8 L928.4,452.4Z" fill="#5f6841" stroke="#5f6841" stroke-width="0.6"/>
<path d="M961.7,476.6 L928.4,452.4 L915.9,461.9 L923.8,486.6 L935.3,491.8 L959.7,492.0 L963.9,483.0Z" fill="#495038" stroke="#495038" stroke-width="0.6"/>
<path d="M938.2,531.7 L927.5,522.5 L935.3,491.8 L959.7,492.0 L961.5,506.6 L943.7,529.5Z" fill="#677148" stroke="#677148" stroke-width="0.6"/>
<path d="M981.1,551.3 L943.7,529.5 L938.2,531.7 L934.6,541.3 L938.0,554.0 L975.6,557.2Z" fill="#737e53" stroke="#737e53" stroke-width="0.6"/>
<path d="M975.6,557.2 L938.0,554.0 L938.1,574.7 L960.9,581.8Z" fill="#6d7640" stroke="#6d7640" stroke-width="0.6"/>
<path d="M960.9,581.8 L938.1,574.7 L920.6,585.6 L926.4,622.0 L952.3,622.0 L965.2,590.2Z" fill="#565e40" stroke="#565e40" stroke-width="0.6"/>
<path d="M968.1,343.8 L962.2,327.0 L1002.9,327.0 L1003.5,353.1 L992.3,357.1Z" fill="#616a44" stroke="#616a44" stroke-width="0.6"/>
<path d="M991.1,397.9 L992.3,357.1 L968.1,343.8 L959.9,358.1 L969.8,395.5Z" fill="#6c764b" stroke="#6c764b" stroke-width="0.6"/>
<path d="M995.0,401.3 L991.1,397.9 L969.8,395.5 L966.5,396.6 L955.6,433.7 L966.9,438.1 L995.6,402.9Z" fill="#5a623d" stroke="#5a623d" stroke-width="0.6"/>
<path d="M972.8,446.3 L966.9,438.1 L995.6,402.9 L1007.1,416.8 L987.8,448.2Z" fill="#859157" stroke="#859157" stroke-width="0.6"/>
<path d="M1004.2,475.1 L1006.9,469.7 L987.8,448.2 L972.8,446.3 L961.7,476.6 L963.9,483.0 L1000.2,479.9Z" fill="#41472e" stroke="#41472e" stroke-width="0.6"/>
<path d="M1005.4,521.2 L998.8,526.9 L961.5,506.6 L959.7,492.0 L963.9,483.0 L1000.2,479.9Z" fill="#5a623c" stroke="#5a623c" stroke-width="0.6"/>
<path d="M981.1,551.3 L943.7,529.5 L961.5,506.6 L998.8,526.9 L993.9,544.3 L988.4,549.1Z" fill="#666f3f" stroke="#666f3f" stroke-width="0.6"/>
<path d="M981.1,551.3 L975.6,557.2 L960.9,581.8 L965.2,590.2 L992.0,595.5 L997.8,592.5 L988.4,549.1Z" fill="#707a4a" stroke="#707a4a" stroke-width="0.6"/>
<path d="M992.0,595.5 L987.5,622.0 L952.3,622.0 L965.2,590.2Z" fill="#646d46" stroke="#646d46" stroke-width="0.6"/>
<path d="M1027.9,353.7 L1039.2,327.0 L1002.9,327.0 L1003.5,353.1Z" fill="#6a7344" stroke="#6a7344" stroke-width="0.6"/>
<path d="M1032.0,362.3 L1033.1,375.8 L995.0,401.3 L991.1,397.9 L992.3,357.1 L1003.5,353.1 L1027.9,353.7Z" fill="#677149" stroke="#677149" stroke-width="0.6"/>
<path d="M1039.6,416.4 L1043.3,386.2 L1033.1,375.8 L995.0,401.3 L995.6,402.9 L1007.1,416.8 L1018.2,422.6Z" fill="#727c4e" stroke="#727c4e" stroke-width="0.6"/>
<path d="M1018.2,422.6 L1007.1,416.8 L987.8,448.2 L1006.9,469.7 L1023.3,460.1Z" fill="#5f6845" stroke="#5f6845" stroke-width="0.6"/>
<path d="M1048.5,489.5 L1037.1,500.4 L1004.2,475.1 L1006.9,469.7 L1023.3,460.1 L1024.0,460.2Z" fill="#596241" stroke="#596241" stroke-width="0.6"/>
<path d="M1037.1,500.4 L1004.2,475.1 L1000.2,479.9 L1005.4,521.2 L1027.8,519.9Z" fill="#444a2b" stroke="#444a2b" stroke-width="0.6"/>
<path d="M1027.8,519.9 L1030.2,521.8 L1034.0,562.2 L1026.3,566.9 L993.9,544.3 L998.8,526.9 L1005.4,521.2Z" fill="#687249" stroke="#687249" stroke-width="0.6"/>
<path d="M988.4,549.1 L993.9,544.3 L1026.3,566.9 L1021.2,594.0 L997.8,592.5Z" fill="#707a4c" stroke="#707a4c" stroke-width="0.6"/>
<path d="M997.8,592.5 L1021.2,594.0 L1022.3,595.4 L1022.4,622.0 L987.5,622.0 L992.0,595.5Z" fill="#5f684c" stroke="#5f684c" stroke-width="0.6"/>
<path d="M1070.3,359.8 L1032.0,362.3 L1027.9,353.7 L1039.2,327.0 L1061.2,327.0Z" fill="#616a41" stroke="#616a41" stroke-width="0.6"/>
<path d="M1070.3,359.8 L1032.0,362.3 L1033.1,375.8 L1043.3,386.2 L1068.6,385.6 L1073.6,363.0Z" fill="#7a854d" stroke="#7a854d" stroke-width="0.6"/>
<path d="M1053.6,423.5 L1080.0,399.1 L1068.6,385.6 L1043.3,386.2 L1039.6,416.4Z" fill="#6f7a52" stroke="#6f7a52" stroke-width="0.6"/>
<path d="M1055.1,449.7 L1053.7,423.6 L1053.6,423.5 L1039.6,416.4 L1018.2,422.6 L1023.3,460.1 L1024.0,460.2Z" fill="#4a5031" stroke="#4a5031" stroke-width="0.6"/>
<path d="M1068.3,488.0 L1048.5,489.5 L1024.0,460.2 L1055.1,449.7 L1064.1,455.9 L1070.3,487.0Z" fill="#656e42" stroke="#656e42" stroke-width="0.6"/>
<path d="M1068.3,488.0 L1057.4,530.2 L1030.2,521.8 L1027.8,519.9 L1037.1,500.4 L1048.5,489.5Z" fill="#616a43" stroke="#616a43" stroke-width="0.6"/>
<path d="M1030.2,521.8 L1057.4,530.2 L1065.6,539.4 L1065.5,559.3 L1034.0,562.2Z" fill="#525937" stroke="#525937" stroke-width="0.6"/>
<path d="M1021.2,594.0 L1026.3,566.9 L1034.0,562.2 L1065.5,559.3 L1069.1,563.9 L1068.8,585.6 L1057.7,597.3 L1022.3,595.4Z" fill="#5e6640" stroke="#5e6640" stroke-width="0.6"/>
<path d="M1022.3,595.4 L1022.4,622.0 L1060.7,622.0 L1057.7,597.3Z" fill="#677148" stroke="#677148" stroke-width="0.6"/>
<path d="M1061.2,327.0 L1070.3,359.8 L1073.6,363.0 L1093.5,358.4 L1098.9,327.0Z" fill="#666f47" stroke="#666f47" stroke-width="0.6"/>
<path d="M1093.5,358.4 L1094.9,359.7 L1108.3,393.6 L1098.5,403.9 L1080.0,399.1 L1068.6,385.6 L1073.6,363.0Z" fill="#6c7649" stroke="#6c7649" stroke-width="0.6"/>
<path d="M1053.7,423.6 L1097.0,437.0 L1101.9,425.9 L1098.5,403.9 L1080.0,399.1 L1053.6,423.5Z" fill="#5a6241" stroke="#5a6241" stroke-width="0.6"/>
<path d="M1055.1,449.7 L1053.7,423.6 L1097.0,437.0 L1096.7,439.0 L1064.1,455.9Z" fill="#768152" stroke="#768152" stroke-width="0.6"/>
<path d="M1070.3,487.0 L1088.3,490.7 L1100.3,478.6 L1105.9,458.8 L1096.7,439.0 L1064.1,455.9Z" fill="#6f794b" stroke="#6f794b" stroke-width="0.6"/>
<path d="M1068.3,488.0 L1057.4,530.2 L1065.6,539.4 L1100.4,517.6 L1088.3,490.7 L1070.3,487.0Z" fill="#596241" stroke="#596241" stroke-width="0.6"/>
<path d="M1065.5,559.3 L1065.6,539.4 L1100.4,517.6 L1108.0,521.9 L1101.0,561.0 L1069.1,563.9Z" fill="#646d44" stroke="#646d44" stroke-width="0.6"/>
<path d="M1069.1,563.9 L1101.0,561.0 L1108.1,566.4 L1106.6,596.6 L1097.7,602.1 L1068.8,585.6Z" fill="#656f4c" stroke="#656f4c" stroke-width="0.6"/>
<path d="M1068.8,585.6 L1097.7,602.1 L1094.4,622.0 L1060.7,622.0 L1057.7,597.3Z" fill="#5b633f" stroke="#5b633f" stroke-width="0.6"/>
<path d="M1123.9,357.5 L1127.8,327.0 L1098.9,327.0 L1093.5,358.4 L1094.9,359.7Z" fill="#6e7856" stroke="#6e7856" stroke-width="0.6"/>
<path d="M1129.1,367.8 L1130.1,387.3 L1108.3,393.6 L1094.9,359.7 L1123.9,357.5Z" fill="#666f49" stroke="#666f49" stroke-width="0.6"/>
<path d="M1098.5,403.9 L1101.9,425.9 L1140.3,430.8 L1143.8,428.8 L1134.0,388.8 L1130.1,387.3 L1108.3,393.6Z" fill="#666f49" stroke="#666f49" stroke-width="0.6"/>
<path d="M1131.4,457.9 L1140.3,430.8 L1101.9,425.9 L1097.0,437.0 L1096.7,439.0 L1105.9,458.8Z" fill="#6b7444" stroke="#6b7444" stroke-width="0.6"/>
<path d="M1128.0,486.2 L1100.3,478.6 L1105.9,458.8 L1131.4,457.9 L1135.3,462.1Z" fill="#677146" stroke="#677146" stroke-width="0.6"/>
<path d="M1123.3,521.7 L1135.1,494.9 L1128.0,486.2 L1100.3,478.6 L1088.3,490.7 L1100.4,517.6 L1108.0,521.9 L1123.0,522.0Z" fill="#646e49" stroke="#646e49" stroke-width="0.6"/>
<path d="M1143.2,556.4 L1136.6,562.7 L1108.1,566.4 L1101.0,561.0 L1108.0,521.9 L1123.0,522.0Z" fill="#687149" stroke="#687149" stroke-width="0.6"/>
<path d="M1136.6,562.7 L1108.1,566.4 L1106.6,596.6 L1123.1,599.4 L1135.7,578.2Z" fill="#58603d" stroke="#58603d" stroke-width="0.6"/>
<path d="M1106.6,596.6 L1097.7,602.1 L1094.4,622.0 L1145.2,622.0 L1123.1,599.4Z" fill="#626a41" stroke="#626a41" stroke-width="0.6"/>
<path d="M1129.1,367.8 L1166.0,343.3 L1166.0,327.0 L1127.8,327.0 L1123.9,357.5Z" fill="#606945" stroke="#606945" stroke-width="0.6"/>
<path d="M1129.1,367.8 L1166.0,343.3 L1166.0,383.5 L1134.0,388.8 L1130.1,387.3Z" fill="#76814e" stroke="#76814e" stroke-width="0.6"/>
<path d="M1166.0,431.5 L1143.8,428.8 L1134.0,388.8 L1166.0,383.5Z" fill="#737d4d" stroke="#737d4d" stroke-width="0.6"/>
<path d="M1135.3,462.1 L1131.4,457.9 L1140.3,430.8 L1143.8,428.8 L1166.0,431.5 L1166.0,471.7Z" fill="#5f6844" stroke="#5f6844" stroke-width="0.6"/>
<path d="M1135.1,494.9 L1166.0,487.0 L1166.0,471.7 L1135.3,462.1 L1128.0,486.2Z" fill="#626a40" stroke="#626a40" stroke-width="0.6"/>
<path d="M1123.3,521.7 L1135.1,494.9 L1166.0,487.0 L1166.0,517.0Z" fill="#5f6848" stroke="#5f6848" stroke-width="0.6"/>
<path d="M1166.0,556.3 L1166.0,517.0 L1123.3,521.7 L1123.0,522.0 L1143.2,556.4Z" fill="#5d6647" stroke="#5d6647" stroke-width="0.6"/>
<path d="M1143.2,556.4 L1136.6,562.7 L1135.7,578.2 L1166.0,609.3 L1166.0,556.3Z" fill="#606a48" stroke="#606a48" stroke-width="0.6"/>
<path d="M1135.7,578.2 L1166.0,609.3 L1166.0,622.0 L1145.2,622.0 L1123.1,599.4Z" fill="#535b39" stroke="#535b39" stroke-width="0.6"/>
<filter id="blc" x="-50%" y="-50%" width="200%" height="200%"><feGaussianBlur stdDeviation="5"/></filter>
<filter id="bLc" x="-50%" y="-50%" width="200%" height="200%"><feGaussianBlur stdDeviation="16"/></filter>
<g filter="url(#blc)">
<ellipse cx="850" cy="361" rx="18" ry="18" fill="#d0d0a0" fill-opacity="0.35"/>
<ellipse cx="950" cy="335" rx="11" ry="6" fill="#d8dcc0" fill-opacity="0.4"/>
<ellipse cx="797" cy="549" rx="13" ry="14" fill="#e8ece0" fill-opacity="0.7"/>
<ellipse cx="1015" cy="424" rx="10" ry="10" fill="#c8c070" fill-opacity="0.35"/>
<ellipse cx="990" cy="490" rx="28" ry="15" fill="#c8c890" fill-opacity="0.3"/>
<ellipse cx="1005" cy="614" rx="17" ry="6" fill="#dcdcd0" fill-opacity="0.4"/>
<ellipse cx="975" cy="415" rx="14" ry="9" fill="#2c3018" fill-opacity="0.4"/>
</g>
<g filter="url(#bLc)">
<ellipse cx="1000" cy="452" rx="210" ry="40" fill="#a4bab4" fill-opacity="0.3"/>
<ellipse cx="820" cy="380" rx="60" ry="45" fill="#b8b060" fill-opacity="0.25"/>
<ellipse cx="900" cy="560" rx="90" ry="40" fill="#b8b060" fill-opacity="0.2"/>
</g>
</g>
<filter id="cbc" x="-10%" y="-10%" width="120%" height="120%"><feGaussianBlur stdDeviation="0.7"/></filter>
<g fill="none" stroke="#22200f" stroke-linecap="round" stroke-linejoin="round" filter="url(#cbc)">
<path d="M1003.5,353.1 L1005.4,346.3 L1008.4,339.9 L1006.7,333.0 L1002.9,327.0" stroke-width="1.0" stroke-opacity="0.89"/>
<path d="M1003.5,353.1 L1000.3,352.6 L997.1,352.9 L994.7,354.9 L992.3,357.1" stroke-width="2.0" stroke-opacity="0.73"/>
<path d="M962.2,327.0 L972.5,327.0 L982.6,329.4 L992.5,326.1 L1002.9,327.0" stroke-width="1.0" stroke-opacity="0.59"/>
<path d="M930.9,397.5 L921.5,394.2 L911.6,395.2 L902.1,397.6 L894.0,403.2" stroke-width="2.0" stroke-opacity="0.88"/>
<path d="M930.9,397.5 L935.9,406.2 L938.7,415.8 L937.6,425.7 L935.3,435.5" stroke-width="1.0" stroke-opacity="0.40"/>
<path d="M933.4,437.8 L934.1,437.3 L934.8,437.0 L935.1,436.2 L935.3,435.5" stroke-width="1.0" stroke-opacity="0.58"/>
<path d="M1094.4,622.0 L1086.0,623.2 L1077.6,621.5 L1069.2,622.5 L1060.7,622.0" stroke-width="1.5" stroke-opacity="0.50"/>
<path d="M966.5,396.6 L963.8,406.0 L959.8,414.8 L958.4,424.4 L955.6,433.7" stroke-width="1.0" stroke-opacity="0.80"/>
<path d="M966.5,396.6 L967.1,395.9 L967.9,395.4 L968.8,395.6 L969.8,395.5" stroke-width="2.0" stroke-opacity="0.74"/>
<path d="M966.9,438.1 L964.3,436.2 L962.1,433.8 L958.8,433.7 L955.6,433.7" stroke-width="2.0" stroke-opacity="0.71"/>
<path d="M991.1,397.9 L992.3,398.5 L993.1,399.5 L994.2,400.3 L995.0,401.3" stroke-width="2.6" stroke-opacity="0.84"/>
<path d="M995.6,402.9 L995.6,402.5 L995.5,402.0 L995.2,401.7 L995.0,401.3" stroke-width="2.6" stroke-opacity="0.89"/>
<path d="M935.3,435.5 L940.3,433.6 L945.2,431.6 L950.3,432.9 L955.6,433.7" stroke-width="1.5" stroke-opacity="0.71"/>
<path d="M933.0,394.6 L932.3,395.1 L931.8,395.9 L931.3,396.6 L930.9,397.5" stroke-width="2.0" stroke-opacity="0.89"/>
<path d="M933.0,394.6 L941.7,396.1 L949.5,400.2 L958.3,399.9 L966.5,396.6" stroke-width="1.5" stroke-opacity="0.83"/>
<path d="M930.8,374.7 L939.1,372.5 L946.3,368.0 L953.5,363.7 L959.9,358.1" stroke-width="1.5" stroke-opacity="0.68"/>
<path d="M959.9,358.1 L965.4,366.7 L971.4,375.1 L968.5,385.1 L969.8,395.5" stroke-width="1.0" stroke-opacity="0.50"/>
<path d="M968.1,343.8 L966.3,347.5 L964.3,351.1 L962.1,354.7 L959.9,358.1" stroke-width="2.0" stroke-opacity="0.68"/>
<path d="M992.3,357.1 L989.6,367.5 L984.9,377.3 L989.8,387.0 L991.1,397.9" stroke-width="2.6" stroke-opacity="0.86"/>
<path d="M1140.3,430.8 L1130.3,429.6 L1120.6,432.1 L1111.1,429.6 L1101.9,425.9" stroke-width="1.5" stroke-opacity="0.81"/>
<path d="M1143.8,428.8 L1142.8,429.1 L1141.7,429.2 L1141.1,430.1 L1140.3,430.8" stroke-width="1.0" stroke-opacity="0.89"/>
<path d="M1108.3,393.6 L1106.2,396.7 L1105.0,400.3 L1101.8,402.2 L1098.5,403.9" stroke-width="2.0" stroke-opacity="0.50"/>
<path d="M1002.9,327.0 L1011.2,321.4 L1021.0,319.6 L1030.5,322.3 L1039.2,327.0" stroke-width="1.0" stroke-opacity="0.75"/>
<path d="M1033.1,375.8 L1022.1,379.8 L1011.4,384.6 L1004.8,394.5 L995.0,401.3" stroke-width="2.0" stroke-opacity="0.35"/>
<path d="M887.0,444.8 L890.5,450.2 L893.8,455.8 L900.1,457.8 L905.1,462.2" stroke-width="1.5" stroke-opacity="0.57"/>
<path d="M887.0,444.8 L883.0,451.6 L878.0,457.8 L871.5,462.3 L864.5,466.0" stroke-width="2.0" stroke-opacity="0.73"/>
<path d="M905.1,462.2 L901.3,466.7 L897.9,471.5 L893.1,475.0 L889.9,480.1" stroke-width="2.6" stroke-opacity="0.36"/>
<path d="M889.9,480.1 L887.1,482.1 L883.8,483.1 L880.4,483.7 L877.1,483.0" stroke-width="1.0" stroke-opacity="0.44"/>
<path d="M864.5,466.0 L867.5,470.4 L870.9,474.4 L874.3,478.5 L877.1,483.0" stroke-width="1.5" stroke-opacity="0.37"/>
<path d="M1096.7,439.0 L1096.6,438.5 L1096.6,437.9 L1096.9,437.5 L1097.0,437.0" stroke-width="1.0" stroke-opacity="0.73"/>
<path d="M1101.9,425.9 L1102.4,429.2 L1101.7,432.4 L1099.4,434.8 L1097.0,437.0" stroke-width="2.6" stroke-opacity="0.71"/>
<path d="M1140.3,430.8 L1138.9,438.0 L1138.8,445.3 L1134.9,451.5 L1131.4,457.9" stroke-width="1.5" stroke-opacity="0.62"/>
<path d="M1105.9,458.8 L1112.3,457.1 L1118.6,455.0 L1124.9,456.6 L1131.4,457.9" stroke-width="1.0" stroke-opacity="0.89"/>
<path d="M1166.0,622.0 L1167.0,618.9 L1167.4,615.7 L1166.2,612.6 L1166.0,609.3" stroke-width="2.6" stroke-opacity="0.67"/>
<path d="M1166.0,431.5 L1162.7,419.8 L1163.0,407.5 L1161.9,395.2 L1166.0,383.5" stroke-width="2.0" stroke-opacity="0.73"/>
<path d="M1134.0,388.8 L1141.6,385.8 L1149.8,385.0 L1157.9,384.6 L1166.0,383.5" stroke-width="2.6" stroke-opacity="0.81"/>
<path d="M1105.9,458.8 L1104.4,463.9 L1101.4,468.2 L1100.7,473.4 L1100.3,478.6" stroke-width="2.6" stroke-opacity="0.63"/>
<path d="M1135.3,462.1 L1134.7,468.5 L1133.3,474.7 L1130.1,480.2 L1128.0,486.2" stroke-width="1.0" stroke-opacity="0.60"/>
<path d="M1166.0,487.0 L1164.3,483.3 L1163.4,479.3 L1165.3,475.7 L1166.0,471.7" stroke-width="1.0" stroke-opacity="0.53"/>
<path d="M1135.3,462.1 L1143.4,463.7 L1151.6,463.9 L1159.1,467.2 L1166.0,471.7" stroke-width="2.6" stroke-opacity="0.87"/>
<path d="M1135.1,494.9 L1134.0,492.2 L1132.4,489.8 L1130.0,488.3 L1128.0,486.2" stroke-width="1.5" stroke-opacity="0.51"/>
<path d="M1007.1,416.8 L1002.8,414.6 L998.6,412.1 L997.4,407.4 L995.6,402.9" stroke-width="2.6" stroke-opacity="0.47"/>
<path d="M966.9,438.1 L968.3,440.4 L968.6,443.1 L970.9,444.5 L972.8,446.3" stroke-width="1.0" stroke-opacity="0.58"/>
<path d="M987.8,448.2 L984.1,447.5 L980.2,448.0 L976.6,447.0 L972.8,446.3" stroke-width="1.0" stroke-opacity="0.67"/>
<path d="M915.9,461.9 L916.2,468.6 L916.5,475.3 L919.5,481.4 L923.8,486.6" stroke-width="1.0" stroke-opacity="0.67"/>
<path d="M915.9,461.9 L919.1,459.4 L921.2,455.9 L925.0,454.6 L928.4,452.4" stroke-width="2.6" stroke-opacity="0.78"/>
<path d="M928.4,452.4 L936.1,459.4 L945.7,463.6 L954.4,469.2 L961.7,476.6" stroke-width="2.6" stroke-opacity="0.63"/>
<path d="M923.8,486.6 L927.0,487.0 L929.8,488.6 L932.4,490.4 L935.3,491.8" stroke-width="2.6" stroke-opacity="0.74"/>
<path d="M935.3,491.8 L941.5,491.5 L947.5,489.8 L953.7,490.1 L959.7,492.0" stroke-width="2.0" stroke-opacity="0.79"/>
<path d="M959.7,492.0 L960.5,489.4 L960.3,486.8 L962.3,485.1 L963.9,483.0" stroke-width="2.0" stroke-opacity="0.65"/>
<path d="M963.9,483.0 L963.4,481.4 L963.0,479.7 L962.1,478.3 L961.7,476.6" stroke-width="1.0" stroke-opacity="0.34"/>
<path d="M906.1,509.0 L900.8,502.3 L894.8,496.4 L892.6,488.2 L889.9,480.1" stroke-width="1.0" stroke-opacity="0.66"/>
<path d="M906.1,509.0 L908.9,502.2 L913.8,496.9 L918.6,491.6 L923.8,486.6" stroke-width="1.0" stroke-opacity="0.35"/>
<path d="M880.0,425.9 L882.0,424.0 L883.5,421.6 L885.5,419.6 L887.8,418.0" stroke-width="1.0" stroke-opacity="0.75"/>
<path d="M933.4,437.8 L932.9,441.7 L932.3,445.5 L931.0,449.3 L928.4,452.4" stroke-width="2.6" stroke-opacity="0.66"/>
<path d="M972.8,446.3 L967.8,453.0 L963.2,460.0 L962.2,468.3 L961.7,476.6" stroke-width="1.5" stroke-opacity="0.34"/>
<path d="M864.5,466.0 L860.6,464.6 L856.6,463.3 L852.8,461.5 L848.5,461.2" stroke-width="2.6" stroke-opacity="0.89"/>
<path d="M863.4,425.3 L858.2,433.6 L853.4,442.2 L850.9,451.7 L848.5,461.2" stroke-width="2.0" stroke-opacity="0.68"/>
<path d="M817.1,387.1 L821.5,395.7 L826.9,403.6 L831.0,412.5 L831.6,422.2" stroke-width="2.6" stroke-opacity="0.58"/>
<path d="M817.1,387.1 L823.6,386.7 L830.0,385.2 L835.9,382.5 L842.5,381.8" stroke-width="1.5" stroke-opacity="0.49"/>
<path d="M842.5,381.8 L844.8,383.3 L846.5,385.5 L849.0,386.7 L851.1,388.4" stroke-width="2.0" stroke-opacity="0.58"/>
<path d="M851.1,388.4 L849.3,396.1 L845.6,403.2 L848.3,410.7 L851.8,417.8" stroke-width="1.5" stroke-opacity="0.44"/>
<path d="M851.8,417.8 L847.0,420.0 L842.0,421.3 L836.8,421.8 L831.6,422.2" stroke-width="1.0" stroke-opacity="0.66"/>
<path d="M930.3,327.0 L918.8,331.6 L906.4,331.9 L894.2,330.7 L882.5,327.0" stroke-width="2.0" stroke-opacity="0.51"/>
<path d="M962.2,327.0 L954.3,328.3 L946.3,328.2 L938.2,329.0 L930.3,327.0" stroke-width="2.0" stroke-opacity="0.38"/>
<path d="M915.0,352.5 L920.2,347.0 L924.7,341.0 L926.5,333.6 L930.3,327.0" stroke-width="2.0" stroke-opacity="0.52"/>
<path d="M930.8,374.7 L927.3,369.6 L924.0,364.4 L919.4,360.3 L914.4,356.7" stroke-width="2.6" stroke-opacity="0.39"/>
<path d="M914.4,356.7 L914.2,355.5 L913.8,354.5 L914.5,353.6 L915.0,352.5" stroke-width="1.5" stroke-opacity="0.53"/>
<path d="M1094.4,622.0 L1107.1,625.0 L1119.8,622.6 L1132.5,619.8 L1145.2,622.0" stroke-width="1.5" stroke-opacity="0.55"/>
<path d="M1123.1,599.4 L1118.6,600.2 L1114.3,601.6 L1110.4,599.3 L1106.6,596.6" stroke-width="1.5" stroke-opacity="0.38"/>
<path d="M1106.6,596.6 L1106.0,589.1 L1106.6,581.5 L1106.6,573.9 L1108.1,566.4" stroke-width="2.0" stroke-opacity="0.46"/>
<path d="M1108.1,566.4 L1115.6,568.2 L1123.1,570.1 L1129.4,565.7 L1136.6,562.7" stroke-width="2.0" stroke-opacity="0.62"/>
<path d="M1145.2,622.0 L1142.6,614.0 L1138.1,606.8 L1130.9,602.5 L1123.1,599.4" stroke-width="2.6" stroke-opacity="0.40"/>
<path d="M1097.7,602.1 L1100.5,601.4 L1103.3,601.2 L1105.4,599.2 L1106.6,596.6" stroke-width="1.5" stroke-opacity="0.44"/>
<path d="M1123.0,522.0 L1123.1,521.9 L1123.2,521.8 L1123.3,521.8 L1123.3,521.7" stroke-width="2.6" stroke-opacity="0.39"/>
<path d="M1123.0,522.0 L1128.5,530.9 L1136.9,537.0 L1138.7,547.1 L1143.2,556.4" stroke-width="2.0" stroke-opacity="0.57"/>
<path d="M1166.0,487.0 L1164.3,494.7 L1161.0,502.0 L1164.1,509.3 L1166.0,517.0" stroke-width="1.5" stroke-opacity="0.41"/>
<path d="M1100.4,517.6 L1094.7,512.0 L1088.7,506.7 L1087.3,498.7 L1088.3,490.7" stroke-width="1.0" stroke-opacity="0.75"/>
<path d="M1100.4,517.6 L1102.6,518.0 L1104.8,518.8 L1106.3,520.4 L1108.0,521.9" stroke-width="1.5" stroke-opacity="0.76"/>
<path d="M1088.3,490.7 L1091.2,487.5 L1094.5,484.8 L1097.0,481.3 L1100.3,478.6" stroke-width="2.6" stroke-opacity="0.82"/>
<path d="M1136.6,562.7 L1138.2,561.0 L1140.3,560.0 L1141.6,558.1 L1143.2,556.4" stroke-width="1.5" stroke-opacity="0.52"/>
<path d="M1101.0,561.0 L1102.7,551.0 L1107.6,542.0 L1107.3,532.0 L1108.0,521.9" stroke-width="1.0" stroke-opacity="0.55"/>
<path d="M1166.0,609.3 L1164.0,595.8 L1159.7,582.8 L1165.1,570.1 L1166.0,556.3" stroke-width="1.5" stroke-opacity="0.33"/>
<path d="M1097.7,602.1 L1090.0,598.7 L1082.1,595.8 L1074.6,591.9 L1068.8,585.6" stroke-width="2.6" stroke-opacity="0.74"/>
<path d="M1060.7,622.0 L1061.0,615.2 L1064.0,609.1 L1060.6,603.3 L1057.7,597.3" stroke-width="1.0" stroke-opacity="0.80"/>
<path d="M1101.0,561.0 L1092.9,562.3 L1085.3,565.2 L1077.2,564.8 L1069.1,563.9" stroke-width="1.5" stroke-opacity="0.47"/>
<path d="M1065.6,539.4 L1064.4,544.3 L1065.1,549.3 L1065.9,554.3 L1065.5,559.3" stroke-width="2.0" stroke-opacity="0.83"/>
<path d="M1073.6,363.0 L1078.8,362.7 L1083.9,362.3 L1088.8,360.5 L1093.5,358.4" stroke-width="2.6" stroke-opacity="0.43"/>
<path d="M1073.6,363.0 L1072.9,362.1 L1072.2,361.1 L1071.3,360.4 L1070.3,359.8" stroke-width="1.0" stroke-opacity="0.79"/>
<path d="M1093.5,358.4 L1096.0,350.6 L1099.9,343.4 L1097.9,335.3 L1098.9,327.0" stroke-width="1.5" stroke-opacity="0.39"/>
<path d="M1098.9,327.0 L1089.5,327.5 L1080.1,326.6 L1070.7,328.0 L1061.2,327.0" stroke-width="2.0" stroke-opacity="0.53"/>
<path d="M1080.0,399.1 L1077.4,395.4 L1075.4,391.4 L1072.5,388.0 L1068.6,385.6" stroke-width="2.6" stroke-opacity="0.69"/>
<path d="M1068.6,385.6 L1068.5,379.4 L1067.1,373.4 L1070.0,368.0 L1073.6,363.0" stroke-width="1.0" stroke-opacity="0.81"/>
<path d="M1108.3,393.6 L1102.2,385.8 L1094.4,379.5 L1096.7,369.7 L1094.9,359.7" stroke-width="2.0" stroke-opacity="0.84"/>
<path d="M1094.9,359.7 L1094.6,359.4 L1094.4,358.9 L1093.9,358.7 L1093.5,358.4" stroke-width="2.6" stroke-opacity="0.62"/>
<path d="M1033.1,375.8 L1035.2,378.9 L1038.3,380.8 L1041.0,383.3 L1043.3,386.2" stroke-width="2.0" stroke-opacity="0.55"/>
<path d="M1032.0,362.3 L1042.4,364.5 L1051.7,369.4 L1061.4,365.4 L1070.3,359.8" stroke-width="2.0" stroke-opacity="0.55"/>
<path d="M1039.2,327.0 L1044.7,327.0 L1050.2,326.7 L1055.7,326.6 L1061.2,327.0" stroke-width="1.5" stroke-opacity="0.61"/>
<path d="M906.1,509.0 L905.7,509.9 L905.3,510.8 L905.6,511.8 L905.7,512.8" stroke-width="1.5" stroke-opacity="0.42"/>
<path d="M935.3,491.8 L931.3,499.3 L925.9,505.8 L928.0,514.0 L927.5,522.5" stroke-width="2.6" stroke-opacity="0.54"/>
<path d="M927.5,522.5 L922.0,519.9 L916.0,519.0 L910.6,516.4 L905.7,512.8" stroke-width="2.0" stroke-opacity="0.44"/>
<path d="M1057.4,530.2 L1050.5,528.1 L1043.3,527.7 L1037.3,523.5 L1030.2,521.8" stroke-width="1.0" stroke-opacity="0.61"/>
<path d="M1034.0,562.2 L1032.1,552.1 L1029.4,542.2 L1028.6,532.0 L1030.2,521.8" stroke-width="1.0" stroke-opacity="0.42"/>
<path d="M1166.0,327.0 L1164.3,330.9 L1163.6,335.1 L1165.5,339.0 L1166.0,343.3" stroke-width="1.5" stroke-opacity="0.52"/>
<path d="M1123.9,357.5 L1125.6,349.8 L1128.9,342.6 L1129.4,334.8 L1127.8,327.0" stroke-width="2.6" stroke-opacity="0.55"/>
<path d="M1123.9,357.5 L1126.2,359.7 L1128.6,361.6 L1128.7,364.7 L1129.1,367.8" stroke-width="2.6" stroke-opacity="0.32"/>
<path d="M1166.0,383.5 L1167.8,372.7 L1173.8,363.4 L1168.3,354.0 L1166.0,343.3" stroke-width="1.5" stroke-opacity="0.57"/>
<path d="M1130.1,387.3 L1130.5,382.1 L1132.8,377.4 L1130.3,372.8 L1129.1,367.8" stroke-width="1.0" stroke-opacity="0.86"/>
<path d="M1098.9,327.0 L1106.1,325.1 L1113.4,323.9 L1120.9,323.9 L1127.8,327.0" stroke-width="2.0" stroke-opacity="0.67"/>
<path d="M1094.9,359.7 L1102.2,360.4 L1109.5,360.0 L1116.8,359.1 L1123.9,357.5" stroke-width="1.5" stroke-opacity="0.34"/>
<path d="M887.6,388.9 L881.7,387.9 L876.2,385.5 L870.3,384.9 L864.4,383.9" stroke-width="2.0" stroke-opacity="0.82"/>
<path d="M887.6,388.9 L888.7,382.6 L888.1,376.3 L892.3,371.6 L895.4,366.0" stroke-width="1.0" stroke-opacity="0.81"/>
<path d="M864.4,383.9 L865.1,375.5 L865.9,367.1 L868.1,359.0 L869.8,350.8" stroke-width="2.6" stroke-opacity="0.87"/>
<path d="M895.4,366.0 L888.8,361.9 L884.4,355.4 L876.8,354.1 L869.8,350.8" stroke-width="2.0" stroke-opacity="0.87"/>
<path d="M894.0,403.2 L893.1,399.3 L890.9,396.0 L889.5,392.3 L887.6,388.9" stroke-width="2.6" stroke-opacity="0.73"/>
<path d="M914.4,356.7 L910.7,360.9 L906.3,364.4 L901.0,366.1 L895.4,366.0" stroke-width="1.5" stroke-opacity="0.76"/>
<path d="M802.9,382.9 L800.3,387.5 L797.0,391.6 L791.8,392.6 L786.9,394.3" stroke-width="1.5" stroke-opacity="0.58"/>
<path d="M802.9,382.9 L805.7,385.8 L809.2,387.6 L813.2,386.7 L817.1,387.1" stroke-width="2.6" stroke-opacity="0.73"/>
<path d="M763.0,622.0 L773.7,618.6 L784.4,615.5 L795.4,618.1 L805.9,622.0" stroke-width="1.0" stroke-opacity="0.78"/>
<path d="M796.8,597.6 L797.7,604.2 L799.4,610.5 L803.5,615.8 L805.9,622.0" stroke-width="1.5" stroke-opacity="0.35"/>
<path d="M796.8,597.6 L794.7,594.3 L792.3,591.3 L788.8,589.5 L785.0,588.6" stroke-width="1.5" stroke-opacity="0.77"/>
<path d="M905.0,579.4 L905.3,579.3 L905.5,579.1 L905.9,579.1 L906.2,579.2" stroke-width="2.0" stroke-opacity="0.49"/>
<path d="M952.3,622.0 L945.7,622.6 L939.3,620.5 L932.8,620.4 L926.4,622.0" stroke-width="1.0" stroke-opacity="0.75"/>
<path d="M829.2,471.9 L829.5,470.8 L829.7,469.6 L830.3,468.6 L830.6,467.4" stroke-width="1.5" stroke-opacity="0.73"/>
<path d="M833.2,467.4 L832.5,467.6 L831.9,468.0 L831.3,467.6 L830.6,467.4" stroke-width="2.0" stroke-opacity="0.64"/>
<path d="M833.2,467.4 L841.3,476.4 L851.9,482.2 L859.2,491.7 L864.2,502.6" stroke-width="1.0" stroke-opacity="0.40"/>
<path d="M864.2,502.6 L863.8,505.6 L864.4,508.6 L863.4,511.4 L862.9,514.4" stroke-width="1.5" stroke-opacity="0.55"/>
<path d="M862.9,514.4 L857.5,515.2 L852.7,517.6 L849.0,521.7 L844.2,524.2" stroke-width="1.0" stroke-opacity="0.61"/>
<path d="M844.2,524.2 L843.3,524.2 L842.4,524.4 L841.6,524.0 L840.7,523.9" stroke-width="2.6" stroke-opacity="0.63"/>
<path d="M837.3,521.4 L838.4,521.7 L839.5,522.0 L840.3,522.9 L840.7,523.9" stroke-width="1.5" stroke-opacity="0.72"/>
<path d="M828.2,465.3 L828.8,465.8 L829.3,466.4 L829.9,467.0 L830.6,467.4" stroke-width="2.6" stroke-opacity="0.72"/>
<path d="M848.5,461.2 L844.8,463.0 L840.7,463.8 L836.7,465.0 L833.2,467.4" stroke-width="1.5" stroke-opacity="0.52"/>
<path d="M905.7,512.8 L901.1,515.7 L897.1,519.4 L892.7,522.7 L887.8,525.2" stroke-width="2.0" stroke-opacity="0.58"/>
<path d="M938.1,574.7 L932.7,575.9 L927.2,576.7 L924.2,581.4 L920.6,585.6" stroke-width="2.6" stroke-opacity="0.90"/>
<path d="M938.1,574.7 L938.2,569.5 L937.3,564.4 L937.1,559.2 L938.0,554.0" stroke-width="1.0" stroke-opacity="0.76"/>
<path d="M906.5,551.1 L906.7,558.3 L908.9,565.2 L906.2,571.9 L906.2,579.2" stroke-width="2.6" stroke-opacity="0.78"/>
<path d="M938.0,554.0 L938.4,550.6 L937.7,547.3 L936.1,544.3 L934.6,541.3" stroke-width="1.5" stroke-opacity="0.63"/>
<path d="M890.0,537.4 L895.2,540.2 L901.1,540.9 L903.0,546.4 L906.5,551.1" stroke-width="1.0" stroke-opacity="0.69"/>
<path d="M927.5,522.5 L930.6,524.3 L933.0,526.9 L935.8,529.1 L938.2,531.7" stroke-width="2.6" stroke-opacity="0.66"/>
<path d="M934.6,541.3 L934.6,538.6 L934.8,536.0 L936.2,533.6 L938.2,531.7" stroke-width="2.0" stroke-opacity="0.86"/>
<path d="M961.5,506.6 L960.8,503.0 L959.9,499.4 L959.4,495.7 L959.7,492.0" stroke-width="1.5" stroke-opacity="0.64"/>
<path d="M961.5,506.6 L954.7,510.4 L948.1,514.5 L947.1,522.4 L943.7,529.5" stroke-width="1.5" stroke-opacity="0.89"/>
<path d="M943.7,529.5 L942.2,529.8 L940.7,530.1 L939.5,531.1 L938.2,531.7" stroke-width="2.0" stroke-opacity="0.60"/>
<path d="M1000.2,479.9 L1000.9,478.5 L1001.7,477.1 L1002.9,476.0 L1004.2,475.1" stroke-width="1.5" stroke-opacity="0.72"/>
<path d="M1000.2,479.9 L1004.2,490.5 L1011.1,499.5 L1010.3,510.9 L1005.4,521.2" stroke-width="2.6" stroke-opacity="0.64"/>
<path d="M1005.4,521.2 L1011.4,521.9 L1016.9,524.4 L1022.0,521.3 L1027.8,519.9" stroke-width="2.0" stroke-opacity="0.70"/>
<path d="M1027.8,519.9 L1030.9,515.4 L1033.2,510.5 L1034.3,505.1 L1037.1,500.4" stroke-width="2.6" stroke-opacity="0.56"/>
<path d="M963.9,483.0 L972.9,479.3 L981.5,474.7 L991.1,476.3 L1000.2,479.9" stroke-width="2.6" stroke-opacity="0.55"/>
<path d="M961.5,506.6 L973.1,506.2 L984.2,509.4 L991.3,518.3 L998.8,526.9" stroke-width="1.5" stroke-opacity="0.76"/>
<path d="M998.8,526.9 L999.9,524.9 L1001.5,523.3 L1003.3,522.0 L1005.4,521.2" stroke-width="2.6" stroke-opacity="0.43"/>
<path d="M993.9,544.3 L1003.7,547.9 L1013.9,550.2 L1020.2,558.4 L1026.3,566.9" stroke-width="1.0" stroke-opacity="0.89"/>
<path d="M1030.2,521.8 L1029.7,521.1 L1029.3,520.5 L1028.6,520.1 L1027.8,519.9" stroke-width="1.0" stroke-opacity="0.70"/>
<path d="M1006.9,469.7 L1010.7,466.4 L1013.6,462.3 L1018.4,461.1 L1023.3,460.1" stroke-width="2.6" stroke-opacity="0.76"/>
<path d="M1023.3,460.1 L1025.6,450.0 L1028.8,440.3 L1024.1,431.1 L1018.2,422.6" stroke-width="1.5" stroke-opacity="0.36"/>
<path d="M1043.3,386.2 L1044.7,393.9 L1044.7,401.7 L1042.3,409.1 L1039.6,416.4" stroke-width="1.5" stroke-opacity="0.86"/>
<path d="M1018.2,422.6 L1023.8,421.5 L1028.6,418.4 L1034.2,418.2 L1039.6,416.4" stroke-width="1.0" stroke-opacity="0.77"/>
<path d="M1097.0,437.0 L1085.9,431.2 L1078.0,421.5 L1065.7,420.4 L1053.7,423.6" stroke-width="2.0" stroke-opacity="0.51"/>
<path d="M1053.6,423.5 L1053.6,423.5 L1053.6,423.5 L1053.6,423.5 L1053.7,423.6" stroke-width="1.5" stroke-opacity="0.75"/>
<path d="M763.0,601.8 L760.1,589.7 L761.7,577.3 L763.7,565.2 L763.0,552.9" stroke-width="1.0" stroke-opacity="0.55"/>
<path d="M787.6,560.7 L782.8,555.8 L776.5,553.0 L769.7,553.6 L763.0,552.9" stroke-width="1.0" stroke-opacity="0.83"/>
<path d="M787.6,560.7 L786.4,567.8 L783.7,574.4 L784.5,581.5 L785.0,588.6" stroke-width="2.6" stroke-opacity="0.52"/>
<path d="M798.4,556.9 L795.5,557.3 L792.8,558.4 L790.0,559.0 L787.6,560.7" stroke-width="2.0" stroke-opacity="0.50"/>
<path d="M798.4,556.9 L802.0,555.9 L805.8,555.9 L809.4,557.2 L812.1,559.9" stroke-width="1.0" stroke-opacity="0.74"/>
<path d="M812.1,559.9 L814.6,563.1 L816.5,566.7 L819.8,569.1 L822.4,572.2" stroke-width="1.0" stroke-opacity="0.60"/>
<path d="M796.8,597.6 L801.7,591.6 L808.3,587.5 L814.6,583.1 L820.7,578.4" stroke-width="2.0" stroke-opacity="0.32"/>
<path d="M820.7,578.4 L821.1,576.8 L821.8,575.4 L821.9,573.8 L822.4,572.2" stroke-width="2.6" stroke-opacity="0.89"/>
<path d="M820.7,578.4 L817.6,589.7 L815.6,601.3 L823.3,610.5 L826.7,622.0" stroke-width="1.0" stroke-opacity="0.36"/>
<path d="M805.9,622.0 L811.5,622.8 L816.3,625.7 L821.1,622.8 L826.7,622.0" stroke-width="1.5" stroke-opacity="0.33"/>
<path d="M987.5,622.0 L996.8,621.2 L1004.9,616.9 L1013.3,620.5 L1022.4,622.0" stroke-width="2.0" stroke-opacity="0.65"/>
<path d="M1057.7,597.3 L1048.7,596.5 L1040.1,594.0 L1031.2,594.8 L1022.3,595.4" stroke-width="2.6" stroke-opacity="0.80"/>
<path d="M1026.3,566.9 L1025.8,574.2 L1027.6,581.2 L1024.5,587.7 L1021.2,594.0" stroke-width="2.0" stroke-opacity="0.50"/>
<path d="M1022.3,595.4 L1022.1,595.0 L1022.0,594.5 L1021.6,594.2 L1021.2,594.0" stroke-width="1.0" stroke-opacity="0.59"/>
<path d="M965.2,590.2 L964.4,587.9 L964.1,585.5 L962.2,583.9 L960.9,581.8" stroke-width="1.0" stroke-opacity="0.35"/>
<path d="M960.9,581.8 L965.9,576.5 L969.6,570.2 L973.7,564.2 L975.6,557.2" stroke-width="2.0" stroke-opacity="0.43"/>
<path d="M992.0,595.5 L993.5,594.9 L995.1,594.3 L996.6,593.6 L997.8,592.5" stroke-width="2.0" stroke-opacity="0.32"/>
<path d="M988.4,549.1 L986.5,549.6 L984.6,549.5 L983.0,550.6 L981.1,551.3" stroke-width="1.5" stroke-opacity="0.68"/>
<path d="M987.5,622.0 L989.6,615.6 L990.9,609.0 L990.4,602.2 L992.0,595.5" stroke-width="1.0" stroke-opacity="0.51"/>
<path d="M938.0,554.0 L947.0,557.4 L956.5,559.2 L966.2,559.9 L975.6,557.2" stroke-width="1.5" stroke-opacity="0.82"/>
<path d="M943.7,529.5 L952.6,535.9 L960.8,543.2 L971.7,545.5 L981.1,551.3" stroke-width="1.5" stroke-opacity="0.81"/>
<path d="M993.9,544.3 L992.7,545.8 L991.8,547.4 L989.9,547.9 L988.4,549.1" stroke-width="1.5" stroke-opacity="0.36"/>
<path d="M859.6,622.0 L851.5,620.2 L843.2,619.2 L834.7,619.5 L826.7,622.0" stroke-width="2.0" stroke-opacity="0.60"/>
<path d="M1024.0,460.2 L1030.9,455.3 L1039.1,453.6 L1047.4,452.7 L1055.1,449.7" stroke-width="1.0" stroke-opacity="0.58"/>
<path d="M1024.0,460.2 L1027.8,469.2 L1034.2,476.5 L1040.3,484.1 L1048.5,489.5" stroke-width="1.5" stroke-opacity="0.67"/>
<path d="M1048.5,489.5 L1053.4,491.2 L1058.6,491.7 L1063.6,490.2 L1068.3,488.0" stroke-width="1.5" stroke-opacity="0.80"/>
<path d="M1064.1,455.9 L1061.7,454.5 L1059.8,452.5 L1057.6,450.9 L1055.1,449.7" stroke-width="2.0" stroke-opacity="0.64"/>
<path d="M1064.1,455.9 L1065.9,463.7 L1068.6,471.2 L1069.0,479.1 L1070.3,487.0" stroke-width="1.5" stroke-opacity="0.64"/>
<path d="M1070.3,487.0 L1069.8,487.1 L1069.3,487.3 L1068.8,487.7 L1068.3,488.0" stroke-width="2.6" stroke-opacity="0.40"/>
<path d="M1023.3,460.1 L1023.5,460.1 L1023.7,460.0 L1023.8,460.1 L1024.0,460.2" stroke-width="1.5" stroke-opacity="0.48"/>
<path d="M1053.7,423.6 L1055.2,430.4 L1058.9,436.4 L1055.6,442.6 L1055.1,449.7" stroke-width="1.0" stroke-opacity="0.65"/>
<path d="M1057.4,530.2 L1058.2,519.2 L1062.2,508.9 L1064.9,498.4 L1068.3,488.0" stroke-width="2.6" stroke-opacity="0.86"/>
<path d="M1096.7,439.0 L1088.3,442.8 L1080.1,446.8 L1071.8,450.9 L1064.1,455.9" stroke-width="2.6" stroke-opacity="0.58"/>
<path d="M1088.3,490.7 L1083.5,491.4 L1078.7,492.0 L1074.7,489.1 L1070.3,487.0" stroke-width="2.0" stroke-opacity="0.45"/>
<path d="M795.9,339.9 L796.4,336.5 L797.8,333.5 L796.6,330.3 L796.3,327.0" stroke-width="2.0" stroke-opacity="0.39"/>
<path d="M763.0,327.0 L771.4,329.7 L779.6,333.0 L788.4,331.2 L796.3,327.0" stroke-width="2.6" stroke-opacity="0.76"/>
<path d="M795.9,339.9 L787.7,346.2 L782.2,355.0 L772.9,359.3 L763.0,362.0" stroke-width="2.6" stroke-opacity="0.86"/>
<path d="M763.0,327.0 L758.8,335.5 L755.7,344.5 L758.9,353.5 L763.0,362.0" stroke-width="1.5" stroke-opacity="0.32"/>
<path d="M869.8,350.8 L869.6,350.3 L869.5,349.8 L869.0,349.5 L868.7,349.1" stroke-width="1.5" stroke-opacity="0.36"/>
<path d="M842.5,381.8 L843.1,374.5 L846.5,368.0 L844.3,361.2 L842.8,354.2" stroke-width="1.0" stroke-opacity="0.55"/>
<path d="M842.8,354.2 L849.3,353.2 L855.8,352.0 L862.1,349.7 L868.7,349.1" stroke-width="1.0" stroke-opacity="0.62"/>
<path d="M802.9,382.9 L806.3,377.7 L808.8,372.1 L806.2,366.4 L805.4,360.2" stroke-width="2.6" stroke-opacity="0.88"/>
<path d="M805.4,360.2 L813.8,356.2 L822.8,354.1 L832.0,351.8 L841.3,353.1" stroke-width="2.0" stroke-opacity="0.48"/>
<path d="M842.8,354.2 L842.5,353.7 L842.3,353.3 L841.8,353.3 L841.3,353.1" stroke-width="1.0" stroke-opacity="0.53"/>
<path d="M763.0,389.0 L766.4,398.0 L769.6,407.0 L766.3,416.0 L763.0,425.0" stroke-width="1.0" stroke-opacity="0.57"/>
<path d="M763.0,362.0 L762.9,368.9 L760.9,375.5 L761.7,382.3 L763.0,389.0" stroke-width="2.6" stroke-opacity="0.58"/>
<path d="M786.9,394.3 L780.1,394.1 L773.8,396.7 L767.7,393.8 L763.0,389.0" stroke-width="1.5" stroke-opacity="0.53"/>
<path d="M790.7,430.6 L784.6,425.9 L778.0,422.1 L770.6,423.9 L763.0,425.0" stroke-width="2.6" stroke-opacity="0.81"/>
<path d="M805.4,360.2 L804.6,354.5 L802.6,349.1 L798.6,345.0 L795.9,339.9" stroke-width="2.6" stroke-opacity="0.85"/>
<path d="M763.0,425.0 L758.3,434.1 L757.9,444.4 L759.2,454.4 L763.0,463.8" stroke-width="2.0" stroke-opacity="0.59"/>
<path d="M790.7,430.6 L787.4,435.5 L784.7,440.8 L785.5,446.8 L783.9,452.6" stroke-width="1.0" stroke-opacity="0.47"/>
<path d="M828.2,465.3 L822.4,464.9 L816.7,466.1 L810.8,465.7 L805.4,463.3" stroke-width="1.0" stroke-opacity="0.48"/>
<path d="M805.4,463.3 L799.1,462.1 L792.6,462.3 L787.9,457.8 L783.9,452.6" stroke-width="1.0" stroke-opacity="0.51"/>
<path d="M861.2,601.9 L852.3,592.8 L846.7,581.3 L834.5,577.9 L823.2,572.3" stroke-width="1.5" stroke-opacity="0.74"/>
<path d="M861.2,601.9 L863.5,595.5 L866.7,589.6 L869.5,583.4 L872.0,577.2" stroke-width="1.5" stroke-opacity="0.58"/>
<path d="M872.0,577.2 L870.1,575.2 L868.1,573.2 L868.5,570.3 L868.2,567.5" stroke-width="1.5" stroke-opacity="0.90"/>
<path d="M857.1,560.5 L848.1,561.7 L839.4,564.2 L830.9,567.4 L823.2,572.3" stroke-width="2.0" stroke-opacity="0.52"/>
<path d="M822.4,572.2 L822.6,572.3 L822.8,572.4 L823.0,572.3 L823.2,572.3" stroke-width="2.6" stroke-opacity="0.84"/>
<path d="M859.6,622.0 L862.7,617.5 L863.9,612.2 L861.8,607.2 L861.2,601.9" stroke-width="2.0" stroke-opacity="0.48"/>
<path d="M905.0,579.4 L897.7,574.0 L889.0,571.3 L880.2,573.3 L872.0,577.2" stroke-width="2.6" stroke-opacity="0.57"/>
<path d="M844.2,524.2 L842.6,534.6 L843.0,545.1 L851.6,551.4 L857.1,560.5" stroke-width="2.0" stroke-opacity="0.81"/>
<path d="M841.3,353.1 L837.5,346.6 L831.8,341.7 L832.1,334.4 L832.9,327.0" stroke-width="2.6" stroke-opacity="0.43"/>
<path d="M868.7,349.1 L869.6,343.2 L868.8,337.3 L870.9,331.6 L874.8,327.0" stroke-width="2.6" stroke-opacity="0.32"/>
<path d="M796.3,327.0 L805.4,325.8 L814.6,327.2 L823.8,328.7 L832.9,327.0" stroke-width="2.6" stroke-opacity="0.41"/>
<path d="M882.5,327.0 L880.6,326.9 L878.7,326.6 L876.8,327.1 L874.8,327.0" stroke-width="1.5" stroke-opacity="0.86"/>
<path d="M763.0,526.2 L760.2,514.0 L753.4,503.6 L760.1,493.1 L763.0,481.0" stroke-width="1.5" stroke-opacity="0.72"/>
<path d="M798.4,515.0 L788.4,514.6 L778.5,513.5 L772.1,521.5 L763.0,526.2" stroke-width="1.0" stroke-opacity="0.62"/>
<path d="M792.9,497.4 L785.5,491.9 L780.7,484.1 L772.1,481.2 L763.0,481.0" stroke-width="1.5" stroke-opacity="0.62"/>
<path d="M798.4,515.0 L799.0,513.7 L799.7,512.4 L800.6,511.4 L801.7,510.5" stroke-width="2.0" stroke-opacity="0.66"/>
<path d="M763.0,552.9 L762.8,546.2 L762.4,539.5 L763.6,532.9 L763.0,526.2" stroke-width="1.5" stroke-opacity="0.73"/>
<path d="M798.4,556.9 L799.8,546.4 L801.6,536.0 L801.5,525.3 L798.4,515.0" stroke-width="2.0" stroke-opacity="0.65"/>
<path d="M763.0,463.8 L763.7,468.1 L763.6,472.4 L763.9,476.8 L763.0,481.0" stroke-width="2.6" stroke-opacity="0.49"/>
<path d="M829.2,471.9 L823.2,481.5 L816.2,490.5 L809.8,499.9 L801.0,507.2" stroke-width="2.0" stroke-opacity="0.56"/>
<path d="M1000.3,339.7 L1009.7,335.4 L1015.7,332.0 L1021.7,331.1 L1025.9,334.6 L1026.8,341.4 L1032.8,345.7 L1037.9,347.4 L1041.3,350.0 L1044.7,354.2 L1048.2,360.2 L1044.7,361.9 L1041.3,358.5 L1036.2,357.7 L1030.2,356.8 L1024.2,358.5 L1018.2,360.2 L1012.2,359.4 L1007.1,356.8 L1002.8,351.7 L1000.3,345.7Z" fill="#181810" fill-opacity="0.88" stroke="#181810" stroke-opacity="0.5" stroke-width="2.5"/>
<path d="M927.2,419.6 L941.2,413.8 L950.6,422.0 L945.9,430.2 L931.9,436.0 L924.8,430.2Z" fill="#181810" fill-opacity="0.88" stroke="#181810" stroke-opacity="0.5" stroke-width="2.5"/>
<path d="M955.0,402.0 L964.0,400.0 L966.0,412.0 L958.0,416.0Z" fill="#181810" fill-opacity="0.88" stroke="#181810" stroke-opacity="0.5" stroke-width="2.5"/>
<path d="M1086.4,362.3 L1092.1,362.3 L1092.0,367.0 L1087.0,367.0Z" fill="#181810" fill-opacity="0.88" stroke="#181810" stroke-opacity="0.5" stroke-width="2.5"/>
<path d="M1043.2,496.4 L1057.8,500.0 L1066.9,500.0 L1076.0,505.5 L1085.2,507.3 L1079.7,512.8 L1070.6,511.0 L1061.5,512.8 L1057.8,509.2 L1048.7,501.9Z" fill="#181810" fill-opacity="0.88" stroke="#181810" stroke-opacity="0.5" stroke-width="2.5"/>
<path d="M1076.0,542.9 L1087.0,543.8 L1097.9,552.9 L1107.0,558.4 L1116.1,565.7 L1119.8,571.1 L1112.5,573.0 L1103.4,571.1 L1094.3,571.1 L1088.8,578.4 L1085.2,585.7 L1076.0,583.9 L1074.2,573.0 L1079.7,562.0 L1077.9,552.9Z" fill="#181810" fill-opacity="0.88" stroke="#181810" stroke-opacity="0.5" stroke-width="2.5"/>
<path d="M1004.8,505.3 L1017.6,508.0 L1015.0,519.3 L1006.0,516.0Z" fill="#181810" fill-opacity="0.88" stroke="#181810" stroke-opacity="0.5" stroke-width="2.5"/>
<path d="M1003.6,605.5 L1013.0,606.0 L1012.0,614.8 L1004.0,613.0Z" fill="#181810" fill-opacity="0.88" stroke="#181810" stroke-opacity="0.5" stroke-width="2.5"/>
<path d="M865.5,482.0 L877.0,483.0 L875.0,489.0 L867.0,488.0Z" fill="#181810" fill-opacity="0.88" stroke="#181810" stroke-opacity="0.5" stroke-width="2.5"/>
<path d="M842.0,580.0 L858.5,581.0 L855.0,587.0 L844.0,586.0Z" fill="#181810" fill-opacity="0.88" stroke="#181810" stroke-opacity="0.5" stroke-width="2.5"/>
<path d="M814.6,430.0 L821.6,432.0 L820.0,439.6 L815.0,437.0Z" fill="#181810" fill-opacity="0.88" stroke="#181810" stroke-opacity="0.5" stroke-width="2.5"/>
<path d="M1053.0,453.7 L1074.0,455.0 L1070.0,463.0 L1056.0,461.0Z" fill="#181810" fill-opacity="0.88" stroke="#181810" stroke-opacity="0.5" stroke-width="2.5"/>
<path d="M926.0,566.0 L945.0,565.0 L961.0,573.0" stroke-width="3" stroke-opacity="0.9"/>
<path d="M958.0,561.0 L966.0,569.0 L973.0,576.0 L980.0,590.0 L986.0,601.0" stroke-width="5" stroke-opacity="0.9"/>
<path d="M958.0,609.0 L970.0,608.0 L987.0,606.0" stroke-width="4.5" stroke-opacity="0.9"/>
<path d="M921.0,563.5 L924.0,575.0 L928.0,584.0" stroke-width="2.5" stroke-opacity="0.9"/>
<path d="M879.4,533.0 L883.0,543.0 L886.4,552.0" stroke-width="2" stroke-opacity="0.9"/>
<path d="M763.0,484.0 L766.0,495.0 L770.0,505.0" stroke-width="3" stroke-opacity="0.9"/>
<path d="M828.7,416.0 L834.0,420.0 L840.4,425.5" stroke-width="2.5" stroke-opacity="0.9"/>
<path d="M786.5,397.0 L791.0,406.0 L795.8,416.0" stroke-width="2" stroke-opacity="0.9"/>
<path d="M861.5,446.6 L864.0,455.0 L866.2,463.0" stroke-width="2" stroke-opacity="0.9"/>
<path d="M835.7,334.0 L838.0,341.0 L840.4,348.0" stroke-width="2" stroke-opacity="0.9"/>
<path d="M987.5,380.0 L1000.0,382.0 L1011.0,384.5" stroke-width="2" stroke-opacity="0.9"/>
<path d="M1039.6,549.3 L1045.0,558.4 L1048.7,569.3 L1054.2,573.0" stroke-width="2.2" stroke-opacity="0.9"/>
<path d="M1039.6,483.6 L1043.2,496.4" stroke-width="2" stroke-opacity="0.9"/>
<path d="M1112.5,485.5 L1127.0,494.6" stroke-width="2" stroke-opacity="0.9"/>
<path d="M1094.0,388.0 L1104.0,389.0 L1113.0,391.0 L1120.0,394.0" stroke-width="4.5" stroke-opacity="0.9"/>
<path d="M1093.0,389.0 L1093.5,405.0 L1092.5,419.0" stroke-width="3.5" stroke-opacity="0.9"/>
<path d="M1100.0,397.0 L1104.0,408.0 L1108.0,419.0" stroke-width="2.5" stroke-opacity="0.9"/>
<path d="M1113.0,394.0 L1114.0,405.0 L1112.0,416.0" stroke-width="2.5" stroke-opacity="0.9"/>
<path d="M1134.0,493.6 L1140.0,520.0 L1142.0,545.0 L1145.7,568.2" stroke-width="2" stroke-opacity="0.9"/>
<path d="M1113.0,484.0 L1120.0,488.0 L1127.0,493.6" stroke-width="2" stroke-opacity="0.9"/>
<ellipse cx="982.8" cy="466.6" rx="2.2" ry="2.2" fill="#f4f4f4" fill-opacity="0.9" stroke="none"/>
<ellipse cx="941" cy="569.5" rx="6" ry="1.6" fill="#f0f0f0" fill-opacity="0.8" stroke="none"/>
</g></g>
<rect x="765.5" y="13" width="19.5" height="17" fill="#fff" stroke="#333" stroke-width="1"/>
<text class="s" font-size="15.5" x="775.3" y="23.8" text-anchor="middle" fill="#111">b</text>
<rect x="768" y="331.5" width="19" height="17" fill="#fff" stroke="#333" stroke-width="1"/>
<text class="s" font-size="16" x="777.5" y="343.5" text-anchor="middle" fill="#111">c</text>
<rect x="1040.5" y="304.5" width="124" height="11.5" fill="#fff" stroke="#333" stroke-width="1"/>
<text x="1103.0" y="314.0" font-family="Liberation Serif,serif" font-size="10.3" text-anchor="middle" fill="#000" stroke="#000" stroke-width="0.25">1 mm</text>
<rect x="1040.5" y="607" width="124" height="11.5" fill="#fff" stroke="#333" stroke-width="1"/>
<text x="1103.0" y="616.5" font-family="Liberation Serif,serif" font-size="10.3" text-anchor="middle" fill="#000" stroke="#000" stroke-width="0.25">1 mm</text>
<g fill="none" stroke="#e0302c" stroke-width="1.1">
<circle cx="1019.5" cy="352.4" r="24"/>
<circle cx="948.8" cy="421" r="30.5"/>
<circle cx="1107.3" cy="398" r="31.1"/>
<circle cx="1075.9" cy="534" r="57.5"/>
</g>
<rect x="9" y="10" width="1158" height="612.8" fill="none" stroke="#222" stroke-width="2"/>
</svg></body></html>
